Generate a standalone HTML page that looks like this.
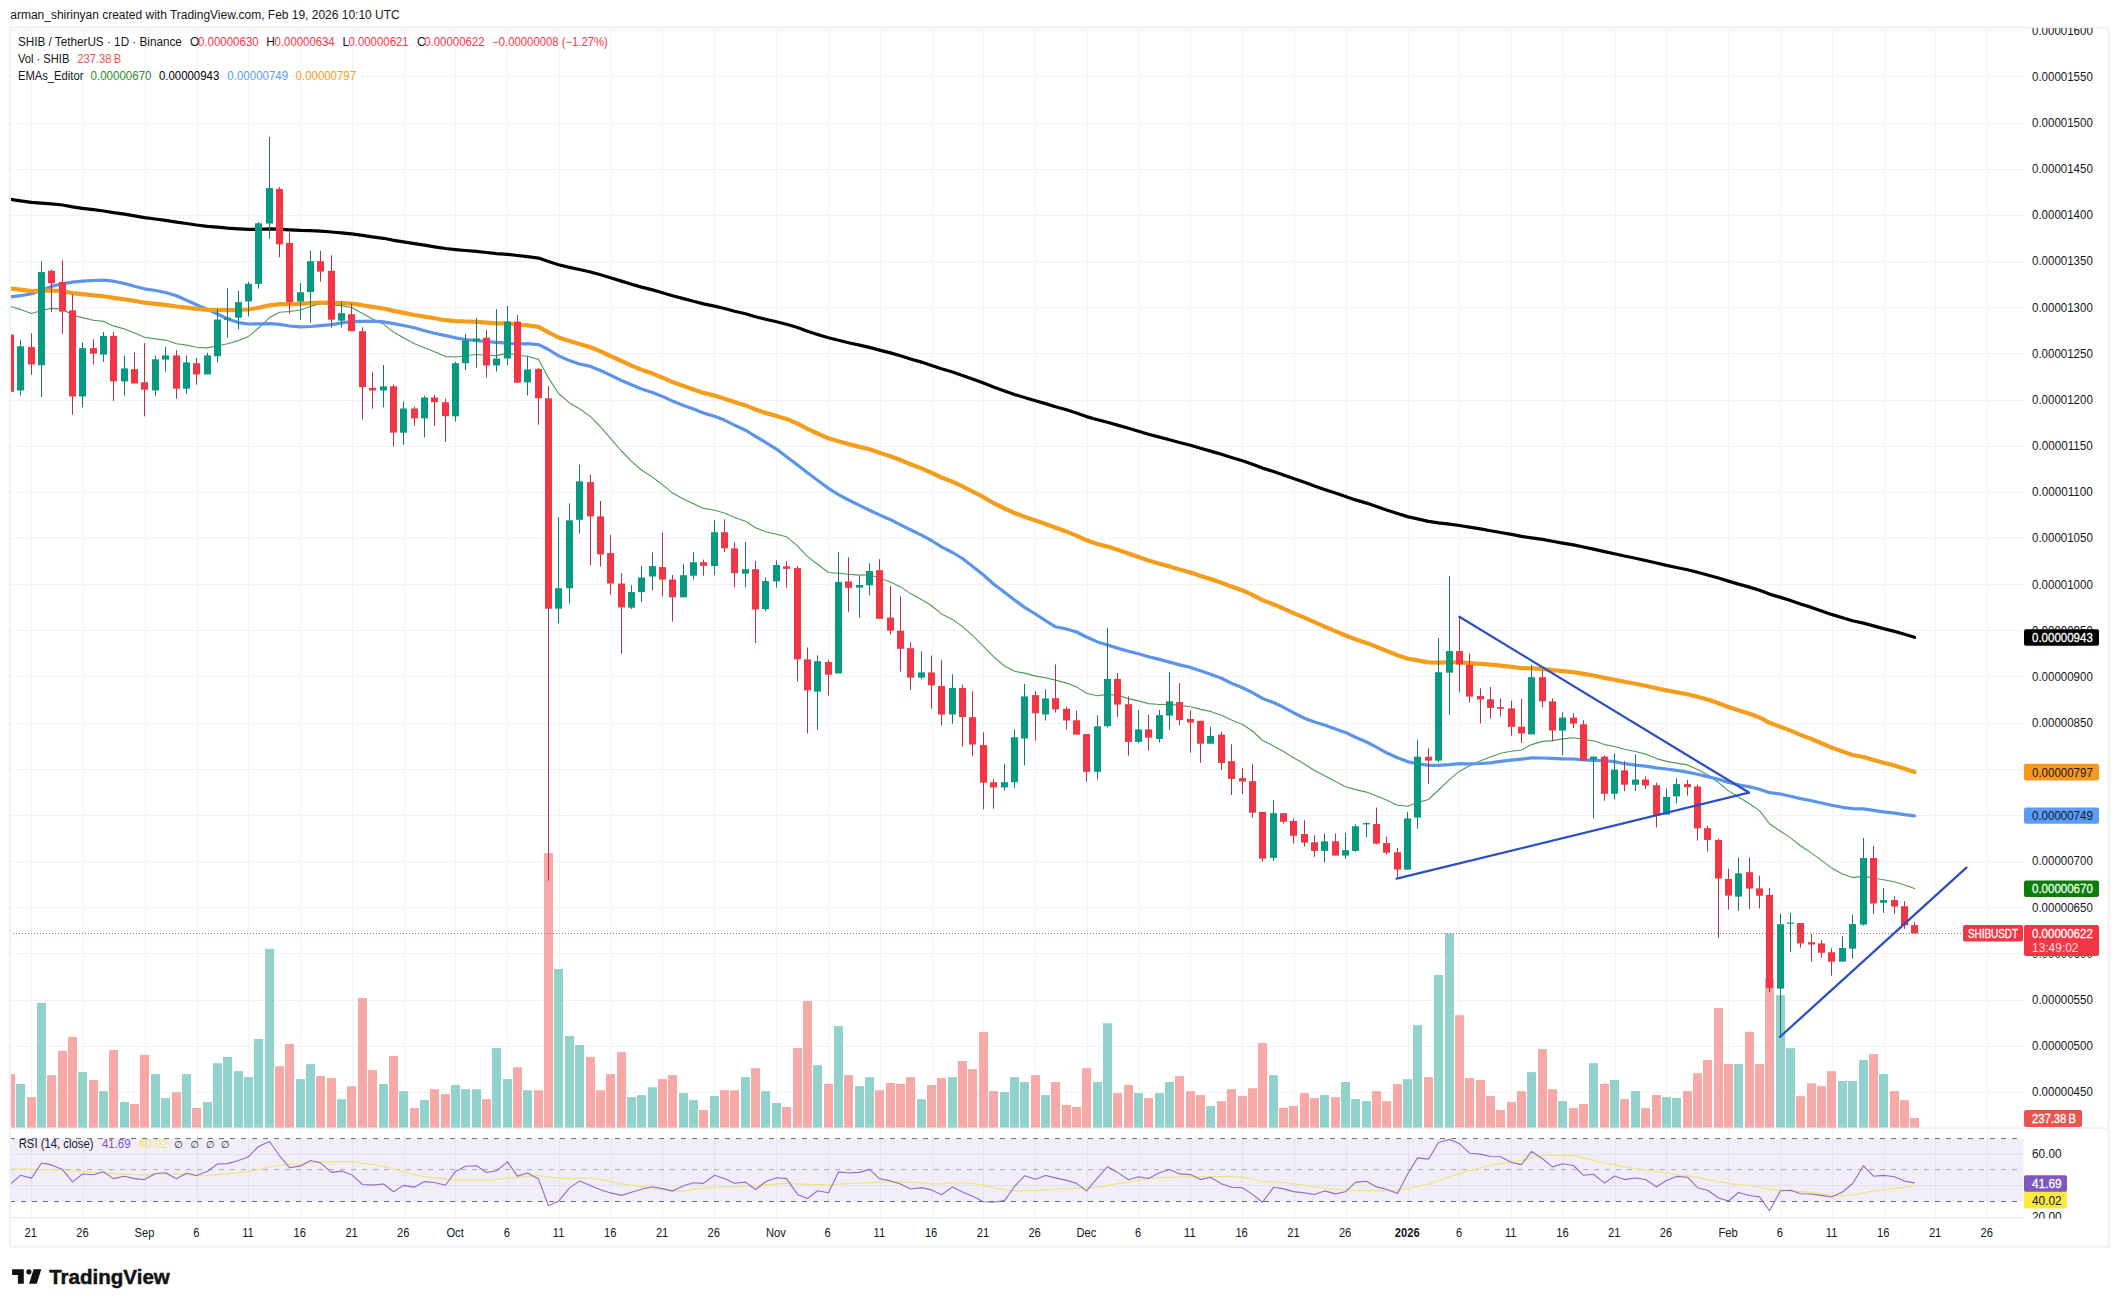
<!DOCTYPE html><html><head><meta charset="utf-8"><title>SHIB / TetherUS chart</title>
<style>html,body{margin:0;padding:0;background:#fff}svg{display:block}text{font-family:"Liberation Sans", Arial, sans-serif;font-size:12px;fill:#131722}</style></head><body>
<svg width="2119" height="1307" viewBox="0 0 2119 1307">
<rect width="2119" height="1307" fill="#fff"/>
<defs><clipPath id="pane"><rect x="10.5" y="27.5" width="2013.5" height="1100.5"/></clipPath><clipPath id="rsi"><rect x="10.5" y="1128.5" width="2013.5" height="89"/></clipPath><clipPath id="axis"><rect x="2024" y="28" width="84" height="1190"/></clipPath></defs>
<g stroke="#f3f3f6" stroke-width="1" shape-rendering="crispEdges">
<line x1="31.5" y1="27.5" x2="31.5" y2="1217.6"/>
<line x1="83.5" y1="27.5" x2="83.5" y2="1217.6"/>
<line x1="145.5" y1="27.5" x2="145.5" y2="1217.6"/>
<line x1="197.5" y1="27.5" x2="197.5" y2="1217.6"/>
<line x1="248.5" y1="27.5" x2="248.5" y2="1217.6"/>
<line x1="300.5" y1="27.5" x2="300.5" y2="1217.6"/>
<line x1="352.5" y1="27.5" x2="352.5" y2="1217.6"/>
<line x1="404.5" y1="27.5" x2="404.5" y2="1217.6"/>
<line x1="455.5" y1="27.5" x2="455.5" y2="1217.6"/>
<line x1="507.5" y1="27.5" x2="507.5" y2="1217.6"/>
<line x1="559.5" y1="27.5" x2="559.5" y2="1217.6"/>
<line x1="611.5" y1="27.5" x2="611.5" y2="1217.6"/>
<line x1="662.5" y1="27.5" x2="662.5" y2="1217.6"/>
<line x1="714.5" y1="27.5" x2="714.5" y2="1217.6"/>
<line x1="776.5" y1="27.5" x2="776.5" y2="1217.6"/>
<line x1="828.5" y1="27.5" x2="828.5" y2="1217.6"/>
<line x1="880.5" y1="27.5" x2="880.5" y2="1217.6"/>
<line x1="932.5" y1="27.5" x2="932.5" y2="1217.6"/>
<line x1="983.5" y1="27.5" x2="983.5" y2="1217.6"/>
<line x1="1035.5" y1="27.5" x2="1035.5" y2="1217.6"/>
<line x1="1087.5" y1="27.5" x2="1087.5" y2="1217.6"/>
<line x1="1139.5" y1="27.5" x2="1139.5" y2="1217.6"/>
<line x1="1190.5" y1="27.5" x2="1190.5" y2="1217.6"/>
<line x1="1242.5" y1="27.5" x2="1242.5" y2="1217.6"/>
<line x1="1294.5" y1="27.5" x2="1294.5" y2="1217.6"/>
<line x1="1346.5" y1="27.5" x2="1346.5" y2="1217.6"/>
<line x1="1408.5" y1="27.5" x2="1408.5" y2="1217.6"/>
<line x1="1459.5" y1="27.5" x2="1459.5" y2="1217.6"/>
<line x1="1511.5" y1="27.5" x2="1511.5" y2="1217.6"/>
<line x1="1563.5" y1="27.5" x2="1563.5" y2="1217.6"/>
<line x1="1615.5" y1="27.5" x2="1615.5" y2="1217.6"/>
<line x1="1666.5" y1="27.5" x2="1666.5" y2="1217.6"/>
<line x1="1728.5" y1="27.5" x2="1728.5" y2="1217.6"/>
<line x1="1780.5" y1="27.5" x2="1780.5" y2="1217.6"/>
<line x1="1832.5" y1="27.5" x2="1832.5" y2="1217.6"/>
<line x1="1884.5" y1="27.5" x2="1884.5" y2="1217.6"/>
<line x1="1935.5" y1="27.5" x2="1935.5" y2="1217.6"/>
<line x1="1987.5" y1="27.5" x2="1987.5" y2="1217.6"/>
<line x1="10" y1="30.5" x2="2024" y2="30.5"/>
<line x1="10" y1="76.5" x2="2024" y2="76.5"/>
<line x1="10" y1="123.5" x2="2024" y2="123.5"/>
<line x1="10" y1="169.5" x2="2024" y2="169.5"/>
<line x1="10" y1="215.5" x2="2024" y2="215.5"/>
<line x1="10" y1="261.5" x2="2024" y2="261.5"/>
<line x1="10" y1="307.5" x2="2024" y2="307.5"/>
<line x1="10" y1="353.5" x2="2024" y2="353.5"/>
<line x1="10" y1="400.5" x2="2024" y2="400.5"/>
<line x1="10" y1="446.5" x2="2024" y2="446.5"/>
<line x1="10" y1="492.5" x2="2024" y2="492.5"/>
<line x1="10" y1="538.5" x2="2024" y2="538.5"/>
<line x1="10" y1="584.5" x2="2024" y2="584.5"/>
<line x1="10" y1="630.5" x2="2024" y2="630.5"/>
<line x1="10" y1="676.5" x2="2024" y2="676.5"/>
<line x1="10" y1="723.5" x2="2024" y2="723.5"/>
<line x1="10" y1="769.5" x2="2024" y2="769.5"/>
<line x1="10" y1="815.5" x2="2024" y2="815.5"/>
<line x1="10" y1="861.5" x2="2024" y2="861.5"/>
<line x1="10" y1="907.5" x2="2024" y2="907.5"/>
<line x1="10" y1="953.5" x2="2024" y2="953.5"/>
<line x1="10" y1="1000.5" x2="2024" y2="1000.5"/>
<line x1="10" y1="1046.5" x2="2024" y2="1046.5"/>
<line x1="10" y1="1092.5" x2="2024" y2="1092.5"/>
</g>
<rect x="10.5" y="1138.6" width="2013" height="62.9" fill="#f1edf9"/>
<g stroke="#e4e1ee" stroke-width="1" shape-rendering="crispEdges">
<line x1="31.5" y1="1138.6" x2="31.5" y2="1201.5"/>
<line x1="83.5" y1="1138.6" x2="83.5" y2="1201.5"/>
<line x1="145.5" y1="1138.6" x2="145.5" y2="1201.5"/>
<line x1="197.5" y1="1138.6" x2="197.5" y2="1201.5"/>
<line x1="248.5" y1="1138.6" x2="248.5" y2="1201.5"/>
<line x1="300.5" y1="1138.6" x2="300.5" y2="1201.5"/>
<line x1="352.5" y1="1138.6" x2="352.5" y2="1201.5"/>
<line x1="404.5" y1="1138.6" x2="404.5" y2="1201.5"/>
<line x1="455.5" y1="1138.6" x2="455.5" y2="1201.5"/>
<line x1="507.5" y1="1138.6" x2="507.5" y2="1201.5"/>
<line x1="559.5" y1="1138.6" x2="559.5" y2="1201.5"/>
<line x1="611.5" y1="1138.6" x2="611.5" y2="1201.5"/>
<line x1="662.5" y1="1138.6" x2="662.5" y2="1201.5"/>
<line x1="714.5" y1="1138.6" x2="714.5" y2="1201.5"/>
<line x1="776.5" y1="1138.6" x2="776.5" y2="1201.5"/>
<line x1="828.5" y1="1138.6" x2="828.5" y2="1201.5"/>
<line x1="880.5" y1="1138.6" x2="880.5" y2="1201.5"/>
<line x1="932.5" y1="1138.6" x2="932.5" y2="1201.5"/>
<line x1="983.5" y1="1138.6" x2="983.5" y2="1201.5"/>
<line x1="1035.5" y1="1138.6" x2="1035.5" y2="1201.5"/>
<line x1="1087.5" y1="1138.6" x2="1087.5" y2="1201.5"/>
<line x1="1139.5" y1="1138.6" x2="1139.5" y2="1201.5"/>
<line x1="1190.5" y1="1138.6" x2="1190.5" y2="1201.5"/>
<line x1="1242.5" y1="1138.6" x2="1242.5" y2="1201.5"/>
<line x1="1294.5" y1="1138.6" x2="1294.5" y2="1201.5"/>
<line x1="1346.5" y1="1138.6" x2="1346.5" y2="1201.5"/>
<line x1="1408.5" y1="1138.6" x2="1408.5" y2="1201.5"/>
<line x1="1459.5" y1="1138.6" x2="1459.5" y2="1201.5"/>
<line x1="1511.5" y1="1138.6" x2="1511.5" y2="1201.5"/>
<line x1="1563.5" y1="1138.6" x2="1563.5" y2="1201.5"/>
<line x1="1615.5" y1="1138.6" x2="1615.5" y2="1201.5"/>
<line x1="1666.5" y1="1138.6" x2="1666.5" y2="1201.5"/>
<line x1="1728.5" y1="1138.6" x2="1728.5" y2="1201.5"/>
<line x1="1780.5" y1="1138.6" x2="1780.5" y2="1201.5"/>
<line x1="1832.5" y1="1138.6" x2="1832.5" y2="1201.5"/>
<line x1="1884.5" y1="1138.6" x2="1884.5" y2="1201.5"/>
<line x1="1935.5" y1="1138.6" x2="1935.5" y2="1201.5"/>
<line x1="1987.5" y1="1138.6" x2="1987.5" y2="1201.5"/>
<line x1="10" y1="1154.5" x2="2023" y2="1154.5"/>
<line x1="10" y1="1185.5" x2="2023" y2="1185.5"/>
</g>
<g stroke-width="1" stroke-dasharray="5 6" fill="none">
<line x1="10" y1="1138.6" x2="2022" y2="1138.6" stroke="#6a6d78"/>
<line x1="10" y1="1169.6" x2="2022" y2="1169.6" stroke="#a9abb3"/>
<line x1="10" y1="1201.5" x2="2022" y2="1201.5" stroke="#6a6d78"/>
</g>
<g clip-path="url(#pane)">
<rect x="6" y="1074.1" width="9" height="53.9" fill="#f7a9a7"/>
<rect x="16" y="1084" width="9" height="44" fill="#92d2cc"/>
<rect x="27" y="1097.1" width="9" height="30.9" fill="#f7a9a7"/>
<rect x="37" y="1002.9" width="9" height="125.1" fill="#92d2cc"/>
<rect x="47" y="1075.1" width="9" height="52.9" fill="#f7a9a7"/>
<rect x="58" y="1050.9" width="9" height="77.1" fill="#f7a9a7"/>
<rect x="68" y="1037" width="9" height="91" fill="#f7a9a7"/>
<rect x="78" y="1072.1" width="9" height="55.9" fill="#92d2cc"/>
<rect x="89" y="1080" width="9" height="48" fill="#f7a9a7"/>
<rect x="99" y="1091.1" width="9" height="36.9" fill="#92d2cc"/>
<rect x="109" y="1049.9" width="9" height="78.1" fill="#f7a9a7"/>
<rect x="120" y="1102.1" width="9" height="25.9" fill="#92d2cc"/>
<rect x="130" y="1104" width="9" height="24" fill="#f7a9a7"/>
<rect x="140" y="1054.9" width="9" height="73.1" fill="#f7a9a7"/>
<rect x="151" y="1074.1" width="9" height="53.9" fill="#92d2cc"/>
<rect x="161" y="1098.1" width="9" height="29.9" fill="#92d2cc"/>
<rect x="172" y="1092.1" width="9" height="35.9" fill="#f7a9a7"/>
<rect x="182" y="1074.1" width="9" height="53.9" fill="#92d2cc"/>
<rect x="192" y="1108" width="9" height="20" fill="#f7a9a7"/>
<rect x="203" y="1102.1" width="9" height="25.9" fill="#92d2cc"/>
<rect x="213" y="1063.2" width="9" height="64.8" fill="#92d2cc"/>
<rect x="223" y="1056.9" width="9" height="71.1" fill="#92d2cc"/>
<rect x="234" y="1071.1" width="9" height="56.9" fill="#92d2cc"/>
<rect x="244" y="1077.1" width="9" height="50.9" fill="#92d2cc"/>
<rect x="254" y="1039" width="9" height="89" fill="#92d2cc"/>
<rect x="265" y="948.8" width="9" height="179.2" fill="#92d2cc"/>
<rect x="275" y="1066.2" width="9" height="61.8" fill="#f7a9a7"/>
<rect x="285" y="1044" width="9" height="84" fill="#f7a9a7"/>
<rect x="296" y="1079.1" width="9" height="48.9" fill="#92d2cc"/>
<rect x="306" y="1064.2" width="9" height="63.8" fill="#92d2cc"/>
<rect x="316" y="1076.1" width="9" height="51.9" fill="#f7a9a7"/>
<rect x="327" y="1078.1" width="9" height="49.9" fill="#f7a9a7"/>
<rect x="337" y="1099.1" width="9" height="28.9" fill="#92d2cc"/>
<rect x="347" y="1086.2" width="9" height="41.8" fill="#f7a9a7"/>
<rect x="358" y="998" width="9" height="130" fill="#f7a9a7"/>
<rect x="368" y="1070.1" width="9" height="57.9" fill="#f7a9a7"/>
<rect x="379" y="1084" width="9" height="44" fill="#92d2cc"/>
<rect x="389" y="1056.1" width="9" height="71.9" fill="#f7a9a7"/>
<rect x="399" y="1091.1" width="9" height="36.9" fill="#92d2cc"/>
<rect x="410" y="1108" width="9" height="20" fill="#f7a9a7"/>
<rect x="420" y="1100.1" width="9" height="27.9" fill="#92d2cc"/>
<rect x="430" y="1089.2" width="9" height="38.8" fill="#f7a9a7"/>
<rect x="441" y="1094.1" width="9" height="33.9" fill="#f7a9a7"/>
<rect x="451" y="1085" width="9" height="43" fill="#92d2cc"/>
<rect x="461" y="1089.2" width="9" height="38.8" fill="#92d2cc"/>
<rect x="472" y="1089.2" width="9" height="38.8" fill="#92d2cc"/>
<rect x="482" y="1099.1" width="9" height="28.9" fill="#f7a9a7"/>
<rect x="492" y="1048.1" width="9" height="79.9" fill="#92d2cc"/>
<rect x="503" y="1079.1" width="9" height="48.9" fill="#92d2cc"/>
<rect x="513" y="1067.2" width="9" height="60.8" fill="#f7a9a7"/>
<rect x="523" y="1090.2" width="9" height="37.8" fill="#92d2cc"/>
<rect x="534" y="1090.2" width="9" height="37.8" fill="#f7a9a7"/>
<rect x="544" y="853.1" width="9" height="274.9" fill="#f7a9a7"/>
<rect x="554" y="969" width="9" height="159" fill="#92d2cc"/>
<rect x="565" y="1036" width="9" height="92" fill="#92d2cc"/>
<rect x="575" y="1045" width="9" height="83" fill="#92d2cc"/>
<rect x="586" y="1056.9" width="9" height="71.1" fill="#f7a9a7"/>
<rect x="596" y="1090.2" width="9" height="37.8" fill="#f7a9a7"/>
<rect x="606" y="1074.1" width="9" height="53.9" fill="#f7a9a7"/>
<rect x="617" y="1052.1" width="9" height="75.9" fill="#f7a9a7"/>
<rect x="627" y="1097.1" width="9" height="30.9" fill="#92d2cc"/>
<rect x="637" y="1095.1" width="9" height="32.9" fill="#92d2cc"/>
<rect x="648" y="1087.2" width="9" height="40.8" fill="#92d2cc"/>
<rect x="658" y="1079.1" width="9" height="48.9" fill="#f7a9a7"/>
<rect x="668" y="1075.1" width="9" height="52.9" fill="#f7a9a7"/>
<rect x="679" y="1093.1" width="9" height="34.9" fill="#92d2cc"/>
<rect x="689" y="1100.1" width="9" height="27.9" fill="#92d2cc"/>
<rect x="699" y="1110" width="9" height="18" fill="#f7a9a7"/>
<rect x="710" y="1096.1" width="9" height="31.9" fill="#92d2cc"/>
<rect x="720" y="1090.2" width="9" height="37.8" fill="#f7a9a7"/>
<rect x="730" y="1090.2" width="9" height="37.8" fill="#f7a9a7"/>
<rect x="741" y="1077.1" width="9" height="50.9" fill="#92d2cc"/>
<rect x="751" y="1068.2" width="9" height="59.8" fill="#f7a9a7"/>
<rect x="761" y="1091.1" width="9" height="36.9" fill="#92d2cc"/>
<rect x="772" y="1103" width="9" height="25" fill="#92d2cc"/>
<rect x="782" y="1107" width="9" height="21" fill="#f7a9a7"/>
<rect x="793" y="1048.1" width="9" height="79.9" fill="#f7a9a7"/>
<rect x="803" y="1001" width="9" height="127" fill="#f7a9a7"/>
<rect x="813" y="1065.2" width="9" height="62.8" fill="#92d2cc"/>
<rect x="824" y="1084" width="9" height="44" fill="#f7a9a7"/>
<rect x="834" y="1026.1" width="9" height="101.9" fill="#92d2cc"/>
<rect x="844" y="1075.1" width="9" height="52.9" fill="#f7a9a7"/>
<rect x="855" y="1086.2" width="9" height="41.8" fill="#92d2cc"/>
<rect x="865" y="1077.1" width="9" height="50.9" fill="#92d2cc"/>
<rect x="875" y="1090.2" width="9" height="37.8" fill="#f7a9a7"/>
<rect x="886" y="1083" width="9" height="45" fill="#f7a9a7"/>
<rect x="896" y="1084" width="9" height="44" fill="#f7a9a7"/>
<rect x="906" y="1077.1" width="9" height="50.9" fill="#f7a9a7"/>
<rect x="917" y="1099.1" width="9" height="28.9" fill="#92d2cc"/>
<rect x="927" y="1085" width="9" height="43" fill="#f7a9a7"/>
<rect x="937" y="1078.1" width="9" height="49.9" fill="#f7a9a7"/>
<rect x="948" y="1077.1" width="9" height="50.9" fill="#92d2cc"/>
<rect x="958" y="1061" width="9" height="67" fill="#f7a9a7"/>
<rect x="968" y="1069.1" width="9" height="58.9" fill="#f7a9a7"/>
<rect x="979" y="1032.1" width="9" height="95.9" fill="#f7a9a7"/>
<rect x="989" y="1091.1" width="9" height="36.9" fill="#f7a9a7"/>
<rect x="1000" y="1092.1" width="9" height="35.9" fill="#92d2cc"/>
<rect x="1010" y="1077.1" width="9" height="50.9" fill="#92d2cc"/>
<rect x="1020" y="1082" width="9" height="46" fill="#92d2cc"/>
<rect x="1031" y="1075.1" width="9" height="52.9" fill="#f7a9a7"/>
<rect x="1041" y="1095.1" width="9" height="32.9" fill="#92d2cc"/>
<rect x="1051" y="1082" width="9" height="46" fill="#f7a9a7"/>
<rect x="1062" y="1105" width="9" height="23" fill="#f7a9a7"/>
<rect x="1072" y="1107" width="9" height="21" fill="#f7a9a7"/>
<rect x="1082" y="1068.2" width="9" height="59.8" fill="#f7a9a7"/>
<rect x="1093" y="1082" width="9" height="46" fill="#92d2cc"/>
<rect x="1103" y="1023.2" width="9" height="104.8" fill="#92d2cc"/>
<rect x="1113" y="1093.1" width="9" height="34.9" fill="#f7a9a7"/>
<rect x="1124" y="1085" width="9" height="43" fill="#f7a9a7"/>
<rect x="1134" y="1093.1" width="9" height="34.9" fill="#92d2cc"/>
<rect x="1144" y="1098.1" width="9" height="29.9" fill="#f7a9a7"/>
<rect x="1155" y="1093.1" width="9" height="34.9" fill="#92d2cc"/>
<rect x="1165" y="1082" width="9" height="46" fill="#92d2cc"/>
<rect x="1175" y="1076.1" width="9" height="51.9" fill="#f7a9a7"/>
<rect x="1186" y="1091.1" width="9" height="36.9" fill="#f7a9a7"/>
<rect x="1196" y="1095.1" width="9" height="32.9" fill="#f7a9a7"/>
<rect x="1206" y="1106" width="9" height="22" fill="#92d2cc"/>
<rect x="1217" y="1101.1" width="9" height="26.9" fill="#f7a9a7"/>
<rect x="1227" y="1089.2" width="9" height="38.8" fill="#f7a9a7"/>
<rect x="1238" y="1096.1" width="9" height="31.9" fill="#f7a9a7"/>
<rect x="1248" y="1088.2" width="9" height="39.8" fill="#f7a9a7"/>
<rect x="1258" y="1043" width="9" height="85" fill="#f7a9a7"/>
<rect x="1269" y="1075.1" width="9" height="52.9" fill="#92d2cc"/>
<rect x="1279" y="1108" width="9" height="20" fill="#f7a9a7"/>
<rect x="1289" y="1106" width="9" height="22" fill="#f7a9a7"/>
<rect x="1300" y="1093.1" width="9" height="34.9" fill="#f7a9a7"/>
<rect x="1310" y="1098.1" width="9" height="29.9" fill="#f7a9a7"/>
<rect x="1320" y="1095.1" width="9" height="32.9" fill="#92d2cc"/>
<rect x="1331" y="1097.1" width="9" height="30.9" fill="#f7a9a7"/>
<rect x="1341" y="1082" width="9" height="46" fill="#92d2cc"/>
<rect x="1351" y="1099.1" width="9" height="28.9" fill="#92d2cc"/>
<rect x="1362" y="1101.1" width="9" height="26.9" fill="#92d2cc"/>
<rect x="1372" y="1091.1" width="9" height="36.9" fill="#f7a9a7"/>
<rect x="1382" y="1101.1" width="9" height="26.9" fill="#f7a9a7"/>
<rect x="1393" y="1084" width="9" height="44" fill="#f7a9a7"/>
<rect x="1403" y="1079.1" width="9" height="48.9" fill="#92d2cc"/>
<rect x="1413" y="1025.1" width="9" height="102.9" fill="#92d2cc"/>
<rect x="1424" y="1077.1" width="9" height="50.9" fill="#f7a9a7"/>
<rect x="1434" y="975" width="9" height="153" fill="#92d2cc"/>
<rect x="1445" y="933.4" width="9" height="194.6" fill="#92d2cc"/>
<rect x="1455" y="1015.2" width="9" height="112.8" fill="#f7a9a7"/>
<rect x="1465" y="1078.1" width="9" height="49.9" fill="#f7a9a7"/>
<rect x="1476" y="1080" width="9" height="48" fill="#f7a9a7"/>
<rect x="1486" y="1096.1" width="9" height="31.9" fill="#f7a9a7"/>
<rect x="1496" y="1110" width="9" height="18" fill="#f7a9a7"/>
<rect x="1507" y="1102.1" width="9" height="25.9" fill="#f7a9a7"/>
<rect x="1517" y="1091.1" width="9" height="36.9" fill="#f7a9a7"/>
<rect x="1527" y="1072.1" width="9" height="55.9" fill="#92d2cc"/>
<rect x="1538" y="1049.1" width="9" height="78.9" fill="#f7a9a7"/>
<rect x="1548" y="1089.2" width="9" height="38.8" fill="#f7a9a7"/>
<rect x="1558" y="1101.1" width="9" height="26.9" fill="#92d2cc"/>
<rect x="1569" y="1108" width="9" height="20" fill="#f7a9a7"/>
<rect x="1579" y="1104" width="9" height="24" fill="#f7a9a7"/>
<rect x="1589" y="1063.2" width="9" height="64.8" fill="#92d2cc"/>
<rect x="1600" y="1084" width="9" height="44" fill="#f7a9a7"/>
<rect x="1610" y="1080" width="9" height="48" fill="#92d2cc"/>
<rect x="1620" y="1099" width="9" height="29" fill="#f7a9a7"/>
<rect x="1631" y="1091.1" width="9" height="36.9" fill="#92d2cc"/>
<rect x="1641" y="1107.9" width="9" height="20.1" fill="#f7a9a7"/>
<rect x="1652" y="1095" width="9" height="33" fill="#f7a9a7"/>
<rect x="1662" y="1096.9" width="9" height="31.1" fill="#92d2cc"/>
<rect x="1672" y="1097.9" width="9" height="30.1" fill="#92d2cc"/>
<rect x="1683" y="1091.1" width="9" height="36.9" fill="#f7a9a7"/>
<rect x="1693" y="1073.3" width="9" height="54.7" fill="#f7a9a7"/>
<rect x="1703" y="1059.9" width="9" height="68.1" fill="#f7a9a7"/>
<rect x="1714" y="1008" width="9" height="120" fill="#f7a9a7"/>
<rect x="1724" y="1064.1" width="9" height="63.9" fill="#f7a9a7"/>
<rect x="1734" y="1064.1" width="9" height="63.9" fill="#92d2cc"/>
<rect x="1745" y="1031.8" width="9" height="96.2" fill="#f7a9a7"/>
<rect x="1755" y="1064.1" width="9" height="63.9" fill="#f7a9a7"/>
<rect x="1765" y="978.9" width="9" height="149.1" fill="#f7a9a7"/>
<rect x="1776" y="995.1" width="9" height="132.9" fill="#92d2cc"/>
<rect x="1786" y="1048.2" width="9" height="79.8" fill="#92d2cc"/>
<rect x="1796" y="1096.2" width="9" height="31.8" fill="#f7a9a7"/>
<rect x="1807" y="1083.3" width="9" height="44.7" fill="#f7a9a7"/>
<rect x="1817" y="1086.2" width="9" height="41.8" fill="#f7a9a7"/>
<rect x="1827" y="1071.2" width="9" height="56.8" fill="#f7a9a7"/>
<rect x="1838" y="1081" width="9" height="47" fill="#92d2cc"/>
<rect x="1848" y="1081" width="9" height="47" fill="#92d2cc"/>
<rect x="1859" y="1059.9" width="9" height="68.1" fill="#92d2cc"/>
<rect x="1869" y="1054.1" width="9" height="73.9" fill="#f7a9a7"/>
<rect x="1879" y="1074" width="9" height="54" fill="#92d2cc"/>
<rect x="1890" y="1091.1" width="9" height="36.9" fill="#f7a9a7"/>
<rect x="1900" y="1100.2" width="9" height="27.8" fill="#f7a9a7"/>
<rect x="1910" y="1118" width="9" height="10" fill="#f7a9a7"/>
<polyline fill="none" stroke="#4f9a55" stroke-width="1.1" stroke-linejoin="round" stroke-linecap="round"  points="10.5,306.5 20.5,309.4 31.5,313.5 41.5,310.5 51.5,308.4 62.5,308.7 72.5,315.2 82.5,317.6 93.5,320.3 103.5,321.4 113.5,325.9 124.5,329 134.5,333.1 144.5,337.3 155.5,338.9 165.5,340.1 176.5,343.7 186.5,345.1 196.5,347.3 207.5,347.9 217.5,345.8 227.5,343.7 238.5,340.6 248.5,336.4 258.5,328 269.5,317.6 279.5,312.2 289.5,311.5 300.5,310 310.5,306.4 320.5,303.8 331.5,305 341.5,305.6 351.5,307.5 362.5,313.4 372.5,319.1 383.5,324.1 393.5,332.1 403.5,337.8 414.5,343.8 424.5,347.7 434.5,351.8 445.5,356.6 455.5,357 465.5,355.8 476.5,354.5 486.5,355.3 496.5,355.6 507.5,353.1 517.5,355.3 527.5,356.3 538.5,359.4 548.5,377.9 558.5,393.5 569.5,402.9 579.5,408.7 590.5,416.6 600.5,426.8 610.5,438.4 621.5,451 631.5,461.4 641.5,470 652.5,477.1 662.5,484.7 672.5,493.1 683.5,499.1 693.5,503.8 703.5,508.4 714.5,510.2 724.5,513 734.5,517.4 745.5,521.3 755.5,527.8 765.5,531.8 776.5,534.2 786.5,536.8 797.5,545.9 807.5,556.6 817.5,564.3 828.5,572.5 838.5,573.2 848.5,574.3 859.5,575.1 869.5,574.8 879.5,578.1 890.5,581.9 900.5,586.9 910.5,593.6 921.5,599.5 931.5,605.8 941.5,613.9 952.5,619.4 962.5,626.6 972.5,635.3 983.5,646.3 993.5,656.7 1004.5,666 1014.5,671.3 1024.5,673.1 1035.5,676.1 1045.5,677.8 1055.5,680.1 1066.5,683.1 1076.5,686.9 1086.5,693.2 1097.5,695.7 1107.5,694.4 1117.5,695.2 1128.5,698.6 1138.5,700.9 1148.5,703.6 1159.5,704.5 1169.5,704.3 1179.5,705.4 1190.5,706.7 1200.5,709.4 1210.5,711.4 1221.5,715.2 1231.5,719.9 1242.5,724.5 1252.5,731 1262.5,740.5 1273.5,745.9 1283.5,751.5 1293.5,757.7 1304.5,764 1314.5,770.5 1324.5,775.7 1335.5,781.6 1345.5,786.7 1355.5,789.6 1366.5,792.1 1376.5,795.9 1386.5,800.1 1397.5,805.3 1407.5,806.2 1417.5,802.6 1428.5,799.5 1438.5,790 1449.5,779.7 1459.5,771.2 1469.5,765.7 1480.5,760.8 1490.5,756.9 1500.5,753.3 1511.5,751.3 1521.5,750 1531.5,744.6 1542.5,741.4 1552.5,740.6 1562.5,738.9 1573.5,737.8 1583.5,739.4 1593.5,740.7 1604.5,744.6 1614.5,746.5 1624.5,749.3 1635.5,751.5 1645.5,754.1 1656.5,758.6 1666.5,761.4 1676.5,763.1 1687.5,764.9 1697.5,769.6 1707.5,774.8 1718.5,782.5 1728.5,790.9 1738.5,797 1749.5,803.8 1759.5,810.6 1769.5,823.7 1780.5,831.2 1790.5,837.9 1800.5,845.7 1811.5,853.1 1821.5,860.4 1831.5,867.9 1842.5,873.9 1852.5,877.6 1863.5,876.1 1873.5,878.2 1883.5,879.8 1894.5,881.8 1904.5,885 1914.5,888.6"/>
<polyline fill="none" stroke="#5b94ea" stroke-width="3.2" stroke-linejoin="round" stroke-linecap="round"  points="10.5,296.8 20.5,295.7 31.5,293.7 41.5,290.2 51.5,286.4 62.5,283.8 72.5,282.1 82.5,281.2 93.5,280.5 103.5,280.2 113.5,281.2 124.5,283.5 134.5,286.3 144.5,288.8 155.5,290.5 165.5,292.5 176.5,295.8 186.5,300.2 196.5,304.8 207.5,309.4 217.5,314 227.5,318.9 238.5,322.6 248.5,324 258.5,323.8 269.5,323.6 279.5,324.4 289.5,326 300.5,326.8 310.5,326.5 320.5,325.7 331.5,324.7 341.5,323 351.5,321.6 362.5,321.3 372.5,321.2 383.5,321.9 393.5,323.6 403.5,325.5 414.5,327.8 424.5,330.7 434.5,333.3 445.5,335.6 455.5,337.8 465.5,339.5 476.5,340.6 486.5,341.6 496.5,342.4 507.5,343.2 517.5,344 527.5,343.6 538.5,344.6 548.5,349.5 558.5,355.8 569.5,360.6 579.5,364 590.5,366.4 600.5,370.5 610.5,375.1 621.5,380.5 631.5,384.7 641.5,388.9 652.5,392.6 662.5,396.4 672.5,401.1 683.5,405.5 693.5,409 703.5,413.1 714.5,416.2 724.5,420.1 734.5,425.1 745.5,430.2 755.5,436.3 765.5,442.3 776.5,449.1 786.5,456.7 797.5,465 807.5,472.8 817.5,480.2 828.5,488.4 838.5,494.7 848.5,500 859.5,505.4 869.5,510.2 879.5,514.9 890.5,519.7 900.5,524.9 910.5,529.8 921.5,535.1 931.5,540.5 941.5,546.8 952.5,552.5 962.5,558.5 972.5,566.2 983.5,575 993.5,584 1004.5,592.3 1014.5,599.9 1024.5,607.4 1035.5,614 1045.5,620.6 1055.5,626.8 1066.5,629 1076.5,632 1086.5,637 1097.5,641.9 1107.5,645.1 1117.5,648.1 1128.5,651.3 1138.5,653.8 1148.5,656.7 1159.5,659.4 1169.5,662.1 1179.5,664.9 1190.5,667.4 1200.5,670.8 1210.5,674.3 1221.5,678.2 1231.5,683.2 1242.5,687.8 1252.5,692.6 1262.5,698.4 1273.5,702.5 1283.5,707.3 1293.5,712.7 1304.5,718.2 1314.5,722 1324.5,725 1335.5,728.9 1345.5,732.4 1355.5,737.3 1366.5,742 1376.5,747.2 1386.5,752.8 1397.5,757.8 1407.5,761.6 1417.5,763.7 1428.5,765.4 1438.5,765.4 1449.5,764.7 1459.5,763.7 1469.5,763.9 1480.5,763.5 1490.5,762.8 1500.5,761.3 1511.5,760.1 1521.5,759.1 1531.5,757.9 1542.5,758 1552.5,758.4 1562.5,758.8 1573.5,759 1583.5,759.8 1593.5,760.3 1604.5,760.7 1614.5,761.6 1624.5,763.7 1635.5,765.2 1645.5,766.1 1656.5,767.8 1666.5,769 1676.5,770.4 1687.5,772.1 1697.5,774.2 1707.5,776.6 1718.5,779.3 1728.5,782.5 1738.5,784.7 1749.5,786.9 1759.5,789.2 1769.5,792.7 1780.5,794 1790.5,796.2 1800.5,798.6 1811.5,800.8 1821.5,803 1831.5,805.2 1842.5,807.3 1852.5,808.7 1863.5,808.8 1873.5,810.4 1883.5,811.9 1894.5,813.2 1904.5,814.7 1914.5,815.9"/>
<polyline fill="none" stroke="#f59d1b" stroke-width="4.2" stroke-linejoin="round" stroke-linecap="round"  points="10.5,288.5 20.5,289.6 31.5,291.1 41.5,290.7 51.5,290.6 62.5,291 72.5,293.1 82.5,294.2 93.5,295.4 103.5,296.2 113.5,297.9 124.5,299.3 134.5,300.9 144.5,302.7 155.5,303.8 165.5,304.8 176.5,306.5 186.5,307.6 196.5,308.9 207.5,309.8 217.5,310 227.5,310.2 238.5,310 248.5,309.5 258.5,307.8 269.5,305.4 279.5,304.2 289.5,304.2 300.5,303.9 310.5,303.1 320.5,302.5 331.5,302.8 341.5,303 351.5,303.6 362.5,305.2 372.5,306.9 383.5,308.5 393.5,310.9 403.5,312.9 414.5,315 424.5,316.6 434.5,318.3 445.5,320.2 455.5,321.1 465.5,321.5 476.5,321.8 486.5,322.7 496.5,323.4 507.5,323.3 517.5,324.5 527.5,325.4 538.5,326.8 548.5,332.4 558.5,337.5 569.5,341.1 579.5,343.9 590.5,347.3 600.5,351.4 610.5,356 621.5,361 631.5,365.6 641.5,369.8 652.5,373.6 662.5,377.7 672.5,382.1 683.5,385.9 693.5,389.4 703.5,392.9 714.5,395.6 724.5,398.7 734.5,402.1 745.5,405.4 755.5,409.5 765.5,412.9 776.5,415.9 786.5,418.9 797.5,423.7 807.5,428.9 817.5,433.5 828.5,438.3 838.5,441.2 848.5,444.1 859.5,446.9 869.5,449.3 879.5,452.7 890.5,456.2 900.5,460 910.5,464.3 921.5,468.4 931.5,472.7 941.5,477.5 952.5,481.7 962.5,486.4 972.5,491.5 983.5,497.2 993.5,503 1004.5,508.5 1014.5,513 1024.5,516.7 1035.5,520.6 1045.5,524.1 1055.5,527.8 1066.5,531.6 1076.5,535.6 1086.5,540.3 1097.5,544 1107.5,546.6 1117.5,549.8 1128.5,553.6 1138.5,557 1148.5,560.6 1159.5,563.7 1169.5,566.4 1179.5,569.5 1190.5,572.5 1200.5,575.9 1210.5,579 1221.5,582.7 1231.5,586.6 1242.5,590.4 1252.5,594.8 1262.5,600.1 1273.5,604.3 1283.5,608.6 1293.5,613.1 1304.5,617.6 1314.5,622.2 1324.5,626.6 1335.5,631.1 1345.5,635.5 1355.5,639.2 1366.5,642.9 1376.5,646.8 1386.5,650.9 1397.5,655.3 1407.5,658.5 1417.5,660.4 1428.5,662.4 1438.5,662.6 1449.5,662.4 1459.5,662.4 1469.5,663.1 1480.5,663.8 1490.5,664.7 1500.5,665.6 1511.5,666.8 1521.5,668.1 1531.5,668.3 1542.5,668.9 1552.5,670.2 1562.5,671.1 1573.5,672.1 1583.5,673.9 1593.5,675.5 1604.5,677.9 1614.5,679.7 1624.5,681.8 1635.5,683.7 1645.5,685.7 1656.5,688.3 1666.5,690.4 1676.5,692.3 1687.5,694.2 1697.5,696.8 1707.5,699.6 1718.5,703.2 1728.5,707 1738.5,710.3 1749.5,713.8 1759.5,717.4 1769.5,722.8 1780.5,726.8 1790.5,730.6 1800.5,734.9 1811.5,739 1821.5,743.2 1831.5,747.6 1842.5,751.5 1852.5,755 1863.5,757 1873.5,759.9 1883.5,762.7 1894.5,765.5 1904.5,768.7 1914.5,772"/>
<polyline fill="none" stroke="#000" stroke-width="3.2" stroke-linejoin="round" stroke-linecap="round"  points="10.5,199.3 20.5,200.8 31.5,202.4 41.5,203.1 51.5,203.9 62.5,205 72.5,206.9 82.5,208.3 93.5,209.7 103.5,211 113.5,212.7 124.5,214.2 134.5,215.9 144.5,217.6 155.5,219 165.5,220.4 176.5,222.1 186.5,223.5 196.5,225 207.5,226.3 217.5,227.2 227.5,228.1 238.5,228.8 248.5,229.4 258.5,229.3 269.5,228.9 279.5,229.1 289.5,229.8 300.5,230.4 310.5,230.7 320.5,231.1 331.5,232 341.5,232.8 351.5,233.8 362.5,235.3 372.5,236.9 383.5,238.3 393.5,240.3 403.5,241.9 414.5,243.7 424.5,245.2 434.5,246.8 445.5,248.5 455.5,249.6 465.5,250.5 476.5,251.4 486.5,252.5 496.5,253.6 507.5,254.3 517.5,255.5 527.5,256.7 538.5,258.1 548.5,261.6 558.5,264.8 569.5,267.4 579.5,269.5 590.5,272 600.5,274.8 610.5,277.8 621.5,281.1 631.5,284.2 641.5,287.1 652.5,289.9 662.5,292.8 672.5,295.8 683.5,298.6 693.5,301.2 703.5,303.9 714.5,306.1 724.5,308.5 734.5,311.2 745.5,313.7 755.5,316.7 765.5,319.3 776.5,321.8 786.5,324.2 797.5,327.5 807.5,331.2 817.5,334.4 828.5,337.8 838.5,340.3 848.5,342.7 859.5,345.1 869.5,347.4 879.5,350.1 890.5,352.9 900.5,355.8 910.5,359 921.5,362.1 931.5,365.4 941.5,368.8 952.5,372 962.5,375.4 972.5,379.1 983.5,383.1 993.5,387.1 1004.5,391.1 1014.5,394.5 1024.5,397.5 1035.5,400.7 1045.5,403.6 1055.5,406.7 1066.5,409.8 1076.5,413 1086.5,416.6 1097.5,419.7 1107.5,422.3 1117.5,425.1 1128.5,428.2 1138.5,431.2 1148.5,434.3 1159.5,437.1 1169.5,439.7 1179.5,442.5 1190.5,445.3 1200.5,448.2 1210.5,451.1 1221.5,454.2 1231.5,457.4 1242.5,460.7 1252.5,464.2 1262.5,468.1 1273.5,471.5 1283.5,475 1293.5,478.6 1304.5,482.2 1314.5,485.9 1324.5,489.4 1335.5,493.1 1345.5,496.6 1355.5,499.9 1366.5,503.1 1376.5,506.5 1386.5,509.9 1397.5,513.5 1407.5,516.6 1417.5,518.9 1428.5,521.4 1438.5,522.9 1449.5,524.1 1459.5,525.5 1469.5,527.2 1480.5,528.9 1490.5,530.7 1500.5,532.5 1511.5,534.4 1521.5,536.4 1531.5,537.8 1542.5,539.4 1552.5,541.3 1562.5,543.1 1573.5,544.9 1583.5,547 1593.5,549.1 1604.5,551.6 1614.5,553.7 1624.5,556 1635.5,558.2 1645.5,560.5 1656.5,563 1666.5,565.4 1676.5,567.5 1687.5,569.7 1697.5,572.3 1707.5,575 1718.5,578 1728.5,581.1 1738.5,584.1 1749.5,587.1 1759.5,590.2 1769.5,594.1 1780.5,597.4 1790.5,600.6 1800.5,604 1811.5,607.4 1821.5,610.9 1831.5,614.4 1842.5,617.7 1852.5,620.7 1863.5,623.1 1873.5,625.9 1883.5,628.6 1894.5,631.4 1904.5,634.3 1914.5,637.3"/>
<rect x="10" y="324.2" width="1" height="68.9" fill="#b33342"/><rect x="20" y="339.8" width="1" height="55.9" fill="#147a68"/><rect x="31" y="333.3" width="1" height="41.6" fill="#b33342"/><rect x="41" y="261.2" width="1" height="135.8" fill="#147a68"/><rect x="51" y="269.5" width="1" height="42.4" fill="#b33342"/><rect x="62" y="260.4" width="1" height="73.3" fill="#b33342"/><rect x="72" y="294.3" width="1" height="120.4" fill="#b33342"/><rect x="82" y="342.4" width="1" height="65" fill="#147a68"/><rect x="93" y="339.2" width="1" height="25.2" fill="#b33342"/><rect x="103" y="332" width="1" height="29.9" fill="#147a68"/><rect x="113" y="332" width="1" height="68.9" fill="#b33342"/><rect x="124" y="355.4" width="1" height="40.3" fill="#147a68"/><rect x="134" y="352.2" width="1" height="31.2" fill="#b33342"/><rect x="144" y="343.1" width="1" height="73.3" fill="#b33342"/><rect x="155" y="355.4" width="1" height="40.8" fill="#147a68"/><rect x="165" y="347" width="1" height="24.7" fill="#147a68"/><rect x="176" y="350.2" width="1" height="48.6" fill="#b33342"/><rect x="186" y="355.4" width="1" height="38.2" fill="#147a68"/><rect x="196" y="358" width="1" height="26.8" fill="#b33342"/><rect x="207" y="352.8" width="1" height="21.6" fill="#147a68"/><rect x="217" y="309.1" width="1" height="53.3" fill="#147a68"/><rect x="227" y="288.3" width="1" height="49.4" fill="#147a68"/><rect x="238" y="290.9" width="1" height="38.5" fill="#147a68"/><rect x="248" y="281.8" width="1" height="34.6" fill="#147a68"/><rect x="258" y="222" width="1" height="66.6" fill="#147a68"/><rect x="269" y="136.9" width="1" height="102" fill="#147a68"/><rect x="279" y="187.1" width="1" height="70.2" fill="#b33342"/><rect x="289" y="232.4" width="1" height="81.4" fill="#b33342"/><rect x="300" y="283.1" width="1" height="36.7" fill="#147a68"/><rect x="310" y="250.8" width="1" height="72" fill="#147a68"/><rect x="320" y="250.8" width="1" height="30.9" fill="#b33342"/><rect x="331" y="255.2" width="1" height="72.3" fill="#b33342"/><rect x="341" y="301.3" width="1" height="26.3" fill="#147a68"/><rect x="351" y="303.4" width="1" height="27.8" fill="#b33342"/><rect x="362" y="327.3" width="1" height="92.3" fill="#b33342"/><rect x="372" y="371.8" width="1" height="36.9" fill="#b33342"/><rect x="383" y="365" width="1" height="42.4" fill="#147a68"/><rect x="393" y="384.5" width="1" height="61.9" fill="#b33342"/><rect x="403" y="401.4" width="1" height="43.4" fill="#147a68"/><rect x="414" y="406.6" width="1" height="19" fill="#b33342"/><rect x="424" y="395.7" width="1" height="41.6" fill="#147a68"/><rect x="434" y="394.9" width="1" height="30.7" fill="#b33342"/><rect x="445" y="398.8" width="1" height="42.9" fill="#b33342"/><rect x="455" y="361.9" width="1" height="59.6" fill="#147a68"/><rect x="465" y="333.8" width="1" height="36.4" fill="#147a68"/><rect x="476" y="318.2" width="1" height="49.4" fill="#147a68"/><rect x="486" y="329.9" width="1" height="47.6" fill="#b33342"/><rect x="496" y="309.1" width="1" height="62.4" fill="#147a68"/><rect x="507" y="306" width="1" height="59" fill="#147a68"/><rect x="517" y="315.1" width="1" height="68.1" fill="#b33342"/><rect x="527" y="355.9" width="1" height="39.5" fill="#147a68"/><rect x="538" y="368.1" width="1" height="56.7" fill="#b33342"/><rect x="548" y="385.8" width="1" height="494.8" fill="#b33342"/><rect x="558" y="517.2" width="1" height="106.1" fill="#147a68"/><rect x="569" y="503.4" width="1" height="100.1" fill="#147a68"/><rect x="579" y="464.6" width="1" height="68.9" fill="#147a68"/><rect x="590" y="474.8" width="1" height="90.5" fill="#b33342"/><rect x="600" y="501" width="1" height="65.5" fill="#b33342"/><rect x="610" y="534.9" width="1" height="59.8" fill="#b33342"/><rect x="621" y="573.1" width="1" height="80.6" fill="#b33342"/><rect x="631" y="585.3" width="1" height="23.7" fill="#147a68"/><rect x="641" y="565.8" width="1" height="36.4" fill="#147a68"/><rect x="652" y="552.3" width="1" height="38.2" fill="#147a68"/><rect x="662" y="532.8" width="1" height="63.7" fill="#b33342"/><rect x="672" y="574.9" width="1" height="46.8" fill="#b33342"/><rect x="683" y="564" width="1" height="33.3" fill="#147a68"/><rect x="693" y="552.3" width="1" height="27.3" fill="#147a68"/><rect x="703" y="559.6" width="1" height="16.1" fill="#b33342"/><rect x="714" y="520.3" width="1" height="54.9" fill="#147a68"/><rect x="724" y="519.2" width="1" height="33" fill="#b33342"/><rect x="734" y="542.4" width="1" height="45" fill="#b33342"/><rect x="745" y="541.9" width="1" height="45.5" fill="#147a68"/><rect x="755" y="560.9" width="1" height="82.2" fill="#b33342"/><rect x="765" y="577.2" width="1" height="34.1" fill="#147a68"/><rect x="776" y="560.3" width="1" height="27.3" fill="#147a68"/><rect x="786" y="561.1" width="1" height="26.5" fill="#b33342"/><rect x="797" y="566.3" width="1" height="115.2" fill="#b33342"/><rect x="807" y="647.5" width="1" height="86.1" fill="#b33342"/><rect x="817" y="655.3" width="1" height="74.4" fill="#147a68"/><rect x="828" y="659.9" width="1" height="35.6" fill="#b33342"/><rect x="838" y="552" width="1" height="121.5" fill="#147a68"/><rect x="848" y="557.2" width="1" height="54.6" fill="#b33342"/><rect x="859" y="576.2" width="1" height="41.4" fill="#147a68"/><rect x="869" y="563.2" width="1" height="32.2" fill="#147a68"/><rect x="879" y="559.3" width="1" height="59.6" fill="#b33342"/><rect x="890" y="585.8" width="1" height="48.6" fill="#b33342"/><rect x="900" y="596.2" width="1" height="75.4" fill="#b33342"/><rect x="910" y="642.3" width="1" height="47.6" fill="#b33342"/><rect x="921" y="651.4" width="1" height="28.1" fill="#147a68"/><rect x="931" y="655.5" width="1" height="53.1" fill="#b33342"/><rect x="941" y="659.9" width="1" height="65.8" fill="#b33342"/><rect x="952" y="674.3" width="1" height="49.4" fill="#147a68"/><rect x="962" y="684.7" width="1" height="61.9" fill="#b33342"/><rect x="972" y="691.2" width="1" height="65" fill="#b33342"/><rect x="983" y="732.2" width="1" height="77.2" fill="#b33342"/><rect x="993" y="779.1" width="1" height="29.6" fill="#b33342"/><rect x="1004" y="764" width="1" height="26.8" fill="#147a68"/><rect x="1014" y="729.4" width="1" height="58.5" fill="#147a68"/><rect x="1024" y="684.1" width="1" height="81.1" fill="#147a68"/><rect x="1035" y="691.2" width="1" height="49.4" fill="#b33342"/><rect x="1045" y="689.3" width="1" height="31.2" fill="#147a68"/><rect x="1055" y="664.4" width="1" height="48.1" fill="#b33342"/><rect x="1066" y="706.8" width="1" height="22.6" fill="#b33342"/><rect x="1076" y="710.7" width="1" height="23.9" fill="#b33342"/><rect x="1086" y="734.1" width="1" height="47.6" fill="#b33342"/><rect x="1097" y="715.3" width="1" height="64.2" fill="#147a68"/><rect x="1107" y="628" width="1" height="99.6" fill="#147a68"/><rect x="1117" y="673" width="1" height="44.2" fill="#b33342"/><rect x="1128" y="696.4" width="1" height="59.3" fill="#b33342"/><rect x="1138" y="710.1" width="1" height="33" fill="#147a68"/><rect x="1148" y="714.9" width="1" height="35.9" fill="#b33342"/><rect x="1159" y="709.9" width="1" height="32.5" fill="#147a68"/><rect x="1169" y="672.2" width="1" height="57.7" fill="#147a68"/><rect x="1179" y="683.1" width="1" height="42.1" fill="#b33342"/><rect x="1190" y="710.4" width="1" height="42.4" fill="#b33342"/><rect x="1200" y="720.8" width="1" height="42.1" fill="#b33342"/><rect x="1210" y="726.8" width="1" height="16.9" fill="#147a68"/><rect x="1221" y="731.8" width="1" height="38" fill="#b33342"/><rect x="1231" y="744.3" width="1" height="50.7" fill="#b33342"/><rect x="1242" y="768.2" width="1" height="26" fill="#b33342"/><rect x="1252" y="763.8" width="1" height="53.8" fill="#b33342"/><rect x="1262" y="811.9" width="1" height="49.4" fill="#b33342"/><rect x="1273" y="800.2" width="1" height="60.6" fill="#147a68"/><rect x="1283" y="813.2" width="1" height="10.4" fill="#b33342"/><rect x="1293" y="818.4" width="1" height="25.2" fill="#b33342"/><rect x="1304" y="820.2" width="1" height="26.3" fill="#b33342"/><rect x="1314" y="835.3" width="1" height="21.6" fill="#b33342"/><rect x="1324" y="833.5" width="1" height="29.1" fill="#147a68"/><rect x="1335" y="833.5" width="1" height="22.1" fill="#b33342"/><rect x="1345" y="832.7" width="1" height="26" fill="#147a68"/><rect x="1355" y="824.1" width="1" height="27.6" fill="#147a68"/><rect x="1366" y="822.3" width="1" height="14.8" fill="#147a68"/><rect x="1376" y="807.5" width="1" height="36.9" fill="#b33342"/><rect x="1386" y="836.6" width="1" height="17.7" fill="#b33342"/><rect x="1397" y="847.8" width="1" height="29.9" fill="#b33342"/><rect x="1407" y="811.9" width="1" height="57.7" fill="#147a68"/><rect x="1417" y="739.8" width="1" height="88.9" fill="#147a68"/><rect x="1428" y="748.2" width="1" height="35.6" fill="#b33342"/><rect x="1438" y="638.1" width="1" height="124.3" fill="#147a68"/><rect x="1449" y="576" width="1" height="138.9" fill="#147a68"/><rect x="1459" y="616.8" width="1" height="75.4" fill="#b33342"/><rect x="1469" y="653.2" width="1" height="49.4" fill="#b33342"/><rect x="1480" y="688.3" width="1" height="35.1" fill="#b33342"/><rect x="1490" y="687" width="1" height="31.7" fill="#b33342"/><rect x="1500" y="698.7" width="1" height="17.7" fill="#b33342"/><rect x="1511" y="700.8" width="1" height="34.9" fill="#b33342"/><rect x="1521" y="698.8" width="1" height="44.2" fill="#b33342"/><rect x="1531" y="665" width="1" height="69.4" fill="#147a68"/><rect x="1542" y="670.2" width="1" height="37.2" fill="#b33342"/><rect x="1552" y="698.3" width="1" height="42.9" fill="#b33342"/><rect x="1562" y="712.4" width="1" height="42.9" fill="#147a68"/><rect x="1573" y="713.1" width="1" height="15.1" fill="#b33342"/><rect x="1583" y="720.2" width="1" height="40.3" fill="#b33342"/><rect x="1593" y="756.6" width="1" height="61.9" fill="#147a68"/><rect x="1604" y="755.5" width="1" height="45.3" fill="#b33342"/><rect x="1614" y="753.4" width="1" height="46" fill="#147a68"/><rect x="1624" y="761.2" width="1" height="29.9" fill="#b33342"/><rect x="1635" y="754.7" width="1" height="36.4" fill="#147a68"/><rect x="1645" y="776.3" width="1" height="12.7" fill="#b33342"/><rect x="1656" y="782.8" width="1" height="44.7" fill="#b33342"/><rect x="1666" y="788.6" width="1" height="26" fill="#147a68"/><rect x="1676" y="778.2" width="1" height="25.2" fill="#147a68"/><rect x="1687" y="780" width="1" height="15.6" fill="#b33342"/><rect x="1697" y="784.7" width="1" height="55.9" fill="#b33342"/><rect x="1707" y="825.9" width="1" height="25.7" fill="#b33342"/><rect x="1718" y="838.7" width="1" height="99" fill="#b33342"/><rect x="1728" y="868.7" width="1" height="41" fill="#b33342"/><rect x="1738" y="857.5" width="1" height="53.4" fill="#147a68"/><rect x="1749" y="857.5" width="1" height="51.5" fill="#b33342"/><rect x="1759" y="875.7" width="1" height="32.8" fill="#b33342"/><rect x="1769" y="887.9" width="1" height="104.2" fill="#b33342"/><rect x="1780" y="913.6" width="1" height="122.9" fill="#147a68"/><rect x="1790" y="912.9" width="1" height="38.9" fill="#147a68"/><rect x="1800" y="923" width="1" height="24.6" fill="#b33342"/><rect x="1811" y="934" width="1" height="27.6" fill="#b33342"/><rect x="1821" y="940.1" width="1" height="17.6" fill="#b33342"/><rect x="1831" y="948.3" width="1" height="27.4" fill="#b33342"/><rect x="1842" y="936.3" width="1" height="25.3" fill="#147a68"/><rect x="1852" y="914.8" width="1" height="43.8" fill="#147a68"/><rect x="1863" y="838" width="1" height="87.7" fill="#147a68"/><rect x="1873" y="845.7" width="1" height="68.1" fill="#b33342"/><rect x="1883" y="888" width="1" height="24.9" fill="#147a68"/><rect x="1894" y="896.1" width="1" height="17.8" fill="#b33342"/><rect x="1904" y="901.1" width="1" height="27.7" fill="#b33342"/><rect x="1914" y="921.9" width="1" height="11.5" fill="#b33342"/>
<rect x="7" y="334.6" width="7" height="57.2" fill="#f23645"/><rect x="17" y="346.3" width="7" height="44.2" fill="#089981"/><rect x="28" y="347" width="7" height="17.4" fill="#f23645"/><rect x="38" y="272.1" width="7" height="93.1" fill="#089981"/><rect x="48" y="270.8" width="7" height="12.5" fill="#f23645"/><rect x="59" y="282" width="7" height="29.6" fill="#f23645"/><rect x="69" y="310.4" width="7" height="86.1" fill="#f23645"/><rect x="79" y="348.1" width="7" height="48.4" fill="#089981"/><rect x="90" y="348.1" width="7" height="5.5" fill="#f23645"/><rect x="100" y="335.9" width="7" height="18.7" fill="#089981"/><rect x="110" y="335.9" width="7" height="45.5" fill="#f23645"/><rect x="121" y="368.4" width="7" height="13" fill="#089981"/><rect x="131" y="369.2" width="7" height="14.3" fill="#f23645"/><rect x="141" y="382.2" width="7" height="7.5" fill="#f23645"/><rect x="152" y="359.3" width="7" height="31.2" fill="#089981"/><rect x="162" y="355.4" width="7" height="4.2" fill="#089981"/><rect x="173" y="355.4" width="7" height="33.3" fill="#f23645"/><rect x="183" y="362.4" width="7" height="26.3" fill="#089981"/><rect x="193" y="363.2" width="7" height="11.2" fill="#f23645"/><rect x="204" y="355.4" width="7" height="19" fill="#089981"/><rect x="214" y="319.5" width="7" height="36.7" fill="#089981"/><rect x="224" y="317.7" width="7" height="2.1" fill="#089981"/><rect x="235" y="302.1" width="7" height="15.6" fill="#089981"/><rect x="245" y="283.8" width="7" height="17.7" fill="#089981"/><rect x="255" y="223.3" width="7" height="60.6" fill="#089981"/><rect x="266" y="188.1" width="7" height="35.4" fill="#089981"/><rect x="276" y="188.9" width="7" height="55.4" fill="#f23645"/><rect x="286" y="243" width="7" height="59" fill="#f23645"/><rect x="297" y="292.2" width="7" height="9.4" fill="#089981"/><rect x="307" y="261.2" width="7" height="30.9" fill="#089981"/><rect x="317" y="261.2" width="7" height="10.4" fill="#f23645"/><rect x="328" y="270.8" width="7" height="48.9" fill="#f23645"/><rect x="338" y="313.2" width="7" height="7.5" fill="#089981"/><rect x="348" y="314.3" width="7" height="16.9" fill="#f23645"/><rect x="359" y="331.2" width="7" height="55.9" fill="#f23645"/><rect x="369" y="387.9" width="7" height="2.6" fill="#f23645"/><rect x="380" y="386.3" width="7" height="4.2" fill="#089981"/><rect x="390" y="386.3" width="7" height="46.3" fill="#f23645"/><rect x="400" y="408.5" width="7" height="24.2" fill="#089981"/><rect x="411" y="408.5" width="7" height="9.9" fill="#f23645"/><rect x="421" y="397.5" width="7" height="20.8" fill="#089981"/><rect x="431" y="397.5" width="7" height="4.7" fill="#f23645"/><rect x="442" y="402.2" width="7" height="14" fill="#f23645"/><rect x="452" y="363.2" width="7" height="53.1" fill="#089981"/><rect x="462" y="340.3" width="7" height="22.9" fill="#089981"/><rect x="473" y="338.5" width="7" height="2.3" fill="#089981"/><rect x="483" y="337.7" width="7" height="27.8" fill="#f23645"/><rect x="493" y="358.5" width="7" height="7" fill="#089981"/><rect x="504" y="321.6" width="7" height="36.9" fill="#089981"/><rect x="514" y="321.6" width="7" height="61.1" fill="#f23645"/><rect x="524" y="369.4" width="7" height="13" fill="#089981"/><rect x="535" y="368.9" width="7" height="29.4" fill="#f23645"/><rect x="545" y="398.3" width="7" height="210.4" fill="#f23645"/><rect x="555" y="588.2" width="7" height="20.5" fill="#089981"/><rect x="566" y="520.3" width="7" height="67.9" fill="#089981"/><rect x="576" y="481.3" width="7" height="38.5" fill="#089981"/><rect x="587" y="482.1" width="7" height="34.3" fill="#f23645"/><rect x="597" y="516.4" width="7" height="38" fill="#f23645"/><rect x="607" y="553.1" width="7" height="30.4" fill="#f23645"/><rect x="618" y="583.5" width="7" height="23.9" fill="#f23645"/><rect x="628" y="592.1" width="7" height="15.6" fill="#089981"/><rect x="638" y="577.5" width="7" height="14.6" fill="#089981"/><rect x="649" y="566.1" width="7" height="10.4" fill="#089981"/><rect x="659" y="567.1" width="7" height="12.5" fill="#f23645"/><rect x="669" y="579.6" width="7" height="17.7" fill="#f23645"/><rect x="680" y="575.2" width="7" height="22.1" fill="#089981"/><rect x="690" y="562.2" width="7" height="13.5" fill="#089981"/><rect x="700" y="562.2" width="7" height="3.6" fill="#f23645"/><rect x="711" y="532.2" width="7" height="33.8" fill="#089981"/><rect x="721" y="532.2" width="7" height="16.1" fill="#f23645"/><rect x="731" y="548.4" width="7" height="24.7" fill="#f23645"/><rect x="742" y="569.2" width="7" height="4.4" fill="#089981"/><rect x="752" y="569.2" width="7" height="40.3" fill="#f23645"/><rect x="762" y="581.1" width="7" height="28.1" fill="#089981"/><rect x="773" y="565" width="7" height="16.4" fill="#089981"/><rect x="783" y="566.3" width="7" height="2.6" fill="#f23645"/><rect x="794" y="568.1" width="7" height="91.3" fill="#f23645"/><rect x="804" y="659.4" width="7" height="30.9" fill="#f23645"/><rect x="814" y="661.2" width="7" height="30.4" fill="#089981"/><rect x="825" y="662" width="7" height="12.7" fill="#f23645"/><rect x="835" y="581.9" width="7" height="91.5" fill="#089981"/><rect x="845" y="581.4" width="7" height="6.5" fill="#f23645"/><rect x="856" y="585" width="7" height="2.6" fill="#089981"/><rect x="866" y="571" width="7" height="14.3" fill="#089981"/><rect x="876" y="570.2" width="7" height="48.6" fill="#f23645"/><rect x="887" y="617.6" width="7" height="13" fill="#f23645"/><rect x="897" y="630.6" width="7" height="18.2" fill="#f23645"/><rect x="907" y="648.2" width="7" height="29.4" fill="#f23645"/><rect x="918" y="672.4" width="7" height="5.2" fill="#089981"/><rect x="928" y="672.4" width="7" height="13" fill="#f23645"/><rect x="938" y="686" width="7" height="28.6" fill="#f23645"/><rect x="949" y="688" width="7" height="26.5" fill="#089981"/><rect x="959" y="688" width="7" height="29.1" fill="#f23645"/><rect x="969" y="717.2" width="7" height="27.3" fill="#f23645"/><rect x="980" y="745" width="7" height="37.7" fill="#f23645"/><rect x="990" y="782.2" width="7" height="5.2" fill="#f23645"/><rect x="1001" y="782.2" width="7" height="5.2" fill="#089981"/><rect x="1011" y="737.2" width="7" height="45" fill="#089981"/><rect x="1021" y="696.4" width="7" height="42.1" fill="#089981"/><rect x="1032" y="695.1" width="7" height="18.2" fill="#f23645"/><rect x="1042" y="698.4" width="7" height="16.1" fill="#089981"/><rect x="1052" y="698.2" width="7" height="11.2" fill="#f23645"/><rect x="1063" y="708.8" width="7" height="11.7" fill="#f23645"/><rect x="1073" y="720.3" width="7" height="14.3" fill="#f23645"/><rect x="1083" y="734.1" width="7" height="37.7" fill="#f23645"/><rect x="1094" y="726.3" width="7" height="45.5" fill="#089981"/><rect x="1104" y="678.9" width="7" height="47.3" fill="#089981"/><rect x="1114" y="678.9" width="7" height="25.7" fill="#f23645"/><rect x="1125" y="704.2" width="7" height="37.7" fill="#f23645"/><rect x="1135" y="729.4" width="7" height="12.5" fill="#089981"/><rect x="1145" y="729.4" width="7" height="8.3" fill="#f23645"/><rect x="1156" y="715.1" width="7" height="23.9" fill="#089981"/><rect x="1166" y="701.3" width="7" height="14.3" fill="#089981"/><rect x="1176" y="702.1" width="7" height="17.9" fill="#f23645"/><rect x="1187" y="719" width="7" height="3.6" fill="#f23645"/><rect x="1197" y="720.8" width="7" height="22.9" fill="#f23645"/><rect x="1207" y="735.9" width="7" height="7.8" fill="#089981"/><rect x="1218" y="734.6" width="7" height="28.3" fill="#f23645"/><rect x="1228" y="761.2" width="7" height="17.7" fill="#f23645"/><rect x="1239" y="778.1" width="7" height="3.4" fill="#f23645"/><rect x="1249" y="781.2" width="7" height="31.5" fill="#f23645"/><rect x="1259" y="811.9" width="7" height="46.8" fill="#f23645"/><rect x="1270" y="813.2" width="7" height="44.7" fill="#089981"/><rect x="1280" y="813.2" width="7" height="8.6" fill="#f23645"/><rect x="1290" y="821" width="7" height="14.8" fill="#f23645"/><rect x="1301" y="834" width="7" height="8.6" fill="#f23645"/><rect x="1311" y="842.3" width="7" height="8.6" fill="#f23645"/><rect x="1321" y="841.3" width="7" height="9.6" fill="#089981"/><rect x="1332" y="841.3" width="7" height="14.3" fill="#f23645"/><rect x="1342" y="850.1" width="7" height="5.5" fill="#089981"/><rect x="1352" y="826.2" width="7" height="24.7" fill="#089981"/><rect x="1363" y="823.1" width="7" height="1.3" fill="#089981"/><rect x="1373" y="824.1" width="7" height="19.5" fill="#f23645"/><rect x="1383" y="843.1" width="7" height="9.6" fill="#f23645"/><rect x="1394" y="852.2" width="7" height="17.4" fill="#f23645"/><rect x="1404" y="818.4" width="7" height="51.2" fill="#089981"/><rect x="1414" y="756.7" width="7" height="60.9" fill="#089981"/><rect x="1425" y="756.7" width="7" height="3.9" fill="#f23645"/><rect x="1435" y="672.2" width="7" height="88.4" fill="#089981"/><rect x="1446" y="651.1" width="7" height="21.6" fill="#089981"/><rect x="1456" y="651.1" width="7" height="13.3" fill="#f23645"/><rect x="1466" y="664.9" width="7" height="31.7" fill="#f23645"/><rect x="1477" y="696.1" width="7" height="3.4" fill="#f23645"/><rect x="1487" y="699.3" width="7" height="8.6" fill="#f23645"/><rect x="1497" y="707.1" width="7" height="1.6" fill="#f23645"/><rect x="1508" y="708.4" width="7" height="18.5" fill="#f23645"/><rect x="1518" y="726.7" width="7" height="6.8" fill="#f23645"/><rect x="1528" y="677.2" width="7" height="57.2" fill="#089981"/><rect x="1539" y="677.2" width="7" height="24.2" fill="#f23645"/><rect x="1549" y="701.4" width="7" height="29.1" fill="#f23645"/><rect x="1559" y="717.6" width="7" height="13" fill="#089981"/><rect x="1570" y="717.6" width="7" height="6" fill="#f23645"/><rect x="1580" y="724.3" width="7" height="36.2" fill="#f23645"/><rect x="1590" y="756.6" width="7" height="2.9" fill="#089981"/><rect x="1601" y="756.6" width="7" height="37.2" fill="#f23645"/><rect x="1611" y="769.6" width="7" height="24.2" fill="#089981"/><rect x="1621" y="770.4" width="7" height="14.3" fill="#f23645"/><rect x="1632" y="779.5" width="7" height="5.2" fill="#089981"/><rect x="1642" y="779.5" width="7" height="6" fill="#f23645"/><rect x="1653" y="785.2" width="7" height="30.2" fill="#f23645"/><rect x="1663" y="796.9" width="7" height="17.7" fill="#089981"/><rect x="1673" y="784.1" width="7" height="12.2" fill="#089981"/><rect x="1684" y="784.1" width="7" height="3.1" fill="#f23645"/><rect x="1694" y="786.5" width="7" height="41.9" fill="#f23645"/><rect x="1704" y="828.2" width="7" height="11.7" fill="#f23645"/><rect x="1715" y="839.9" width="7" height="38.6" fill="#f23645"/><rect x="1725" y="879" width="7" height="16.6" fill="#f23645"/><rect x="1735" y="873.4" width="7" height="23.2" fill="#089981"/><rect x="1746" y="872.2" width="7" height="16.4" fill="#f23645"/><rect x="1756" y="888.4" width="7" height="7.3" fill="#f23645"/><rect x="1766" y="894.9" width="7" height="93.2" fill="#f23645"/><rect x="1777" y="924.2" width="7" height="64.4" fill="#089981"/><rect x="1787" y="922.5" width="7" height="1.2" fill="#089981"/><rect x="1797" y="923" width="7" height="20.4" fill="#f23645"/><rect x="1808" y="942.2" width="7" height="2.3" fill="#f23645"/><rect x="1818" y="943.4" width="7" height="9.4" fill="#f23645"/><rect x="1828" y="952.3" width="7" height="9.4" fill="#f23645"/><rect x="1839" y="948" width="7" height="13.6" fill="#089981"/><rect x="1849" y="924.1" width="7" height="24.6" fill="#089981"/><rect x="1860" y="858" width="7" height="66.6" fill="#089981"/><rect x="1870" y="858" width="7" height="45.5" fill="#f23645"/><rect x="1880" y="900.1" width="7" height="2.7" fill="#089981"/><rect x="1891" y="900.1" width="7" height="6.5" fill="#f23645"/><rect x="1901" y="906.2" width="7" height="19.1" fill="#f23645"/><rect x="1911" y="925.1" width="7" height="8.3" fill="#f23645"/>
<line x1="10" y1="933.5" x2="1963" y2="933.5" stroke="#b4636b" stroke-width="1" stroke-dasharray="1 2"/>
<g stroke="#2b50c4" stroke-width="2.3" stroke-linecap="round" fill="none">
<line x1="1459.4" y1="616.8" x2="1748.9" y2="792.6"/>
<line x1="1396.7" y1="878.7" x2="1748.9" y2="792.6"/>
<line x1="1779.9" y1="1037" x2="1966.4" y2="867.6"/>
</g>
</g>
<g clip-path="url(#rsi)">
<polyline fill="none" stroke="#f3e583" stroke-width="1.3" stroke-linejoin="round" stroke-linecap="round"  points="10.5,1168.9 20.5,1169.2 31.5,1169.4 41.5,1169.7 51.5,1169.9 62.5,1170.2 72.5,1170.9 82.5,1171.6 93.5,1172.2 103.5,1172.9 113.5,1173.6 124.5,1174.1 134.5,1174.7 144.5,1175 155.5,1174.3 165.5,1174.1 176.5,1174.1 186.5,1174.9 196.5,1175.6 207.5,1175.7 217.5,1174.5 227.5,1173.7 238.5,1172.7 248.5,1171.6 258.5,1169.3 269.5,1166.9 279.5,1165.2 289.5,1164.4 300.5,1163.8 310.5,1163 320.5,1161.8 331.5,1161.8 341.5,1161.5 351.5,1161.7 362.5,1163.2 372.5,1164.7 383.5,1166.4 393.5,1168.9 403.5,1171.7 414.5,1174.9 424.5,1176.8 434.5,1177.8 445.5,1179.2 455.5,1180 465.5,1180.2 476.5,1179.7 486.5,1179.8 496.5,1179.5 507.5,1177.9 517.5,1177.3 527.5,1176.5 538.5,1175.6 548.5,1177.1 558.5,1178.1 569.5,1178.5 579.5,1178.4 590.5,1178.4 600.5,1179.7 610.5,1181.7 621.5,1183.8 631.5,1185.2 641.5,1186.5 652.5,1188.3 662.5,1189.2 672.5,1190.5 683.5,1191 693.5,1189.3 703.5,1188 714.5,1187.1 724.5,1186.9 734.5,1186.8 745.5,1186.2 755.5,1186 765.5,1185 776.5,1184 786.5,1183.2 797.5,1183.8 807.5,1184.5 817.5,1184.5 828.5,1184.9 838.5,1184.2 848.5,1183.4 859.5,1183.2 869.5,1182.6 879.5,1182.3 890.5,1182.2 900.5,1181.8 910.5,1182.3 921.5,1183 931.5,1183.8 941.5,1183.8 952.5,1183 962.5,1183.1 972.5,1183.4 983.5,1185.5 993.5,1187.6 1004.5,1189.6 1014.5,1190.8 1024.5,1190.6 1035.5,1190.5 1045.5,1189.9 1055.5,1189.1 1066.5,1188.6 1076.5,1188.1 1086.5,1187.8 1097.5,1187.2 1107.5,1185.4 1117.5,1183.7 1128.5,1182.1 1138.5,1180.3 1148.5,1178.7 1159.5,1177.7 1169.5,1177.3 1179.5,1176.9 1190.5,1176.8 1200.5,1176.9 1210.5,1176.7 1221.5,1176.7 1231.5,1176.5 1242.5,1177.2 1252.5,1179.2 1262.5,1181.3 1273.5,1181.8 1283.5,1182.7 1293.5,1183.6 1304.5,1185.1 1314.5,1186.8 1324.5,1188.1 1335.5,1189.4 1345.5,1190.3 1355.5,1190.7 1366.5,1190.5 1376.5,1190.5 1386.5,1190.6 1397.5,1190.5 1407.5,1188.5 1417.5,1186.4 1428.5,1184.3 1438.5,1180.8 1449.5,1177 1459.5,1173.3 1469.5,1170.6 1480.5,1167.8 1490.5,1165.3 1500.5,1163.4 1511.5,1162.1 1521.5,1160.5 1531.5,1157.8 1542.5,1155.3 1552.5,1154.8 1562.5,1155.2 1573.5,1155.7 1583.5,1158 1593.5,1160.5 1604.5,1163.3 1614.5,1165 1624.5,1166.8 1635.5,1168.3 1645.5,1169.9 1656.5,1171.7 1666.5,1172.8 1676.5,1174.6 1687.5,1175.9 1697.5,1177.4 1707.5,1179.3 1718.5,1181.6 1728.5,1183.4 1738.5,1184.8 1749.5,1185.6 1759.5,1187.1 1769.5,1189.4 1780.5,1190.3 1790.5,1191 1800.5,1191.5 1811.5,1192.5 1821.5,1193.9 1831.5,1195.3 1842.5,1195.6 1852.5,1195.1 1863.5,1192.8 1873.5,1191.1 1883.5,1189.8 1894.5,1188.5 1904.5,1187.4 1914.5,1185.4"/>
<polyline fill="none" stroke="#7e57c2" stroke-width="1.1" stroke-linejoin="round" stroke-linecap="round" stroke-opacity="0.85" points="10.5,1183.9 20.5,1175.3 31.5,1178.1 41.5,1163 51.5,1164.9 62.5,1169.6 72.5,1181.9 82.5,1174 93.5,1174.7 103.5,1171.8 113.5,1178.6 124.5,1176.3 134.5,1178.6 144.5,1179.6 155.5,1173.5 165.5,1172.7 176.5,1178.8 186.5,1173.2 196.5,1175.5 207.5,1171.3 217.5,1164 227.5,1163.6 238.5,1160.5 248.5,1156.8 258.5,1146.5 269.5,1141.5 279.5,1155.8 289.5,1167.7 300.5,1165.9 310.5,1160.5 320.5,1162.8 331.5,1172.4 341.5,1171.1 351.5,1174.7 362.5,1184.5 372.5,1185.1 383.5,1184 393.5,1191.7 403.5,1185.4 414.5,1187.1 424.5,1181.6 434.5,1182.5 445.5,1185.3 455.5,1171.4 465.5,1166.2 476.5,1165.8 486.5,1172.5 496.5,1170.7 507.5,1161.9 517.5,1176.1 527.5,1173 538.5,1179 548.5,1205.8 558.5,1201.3 569.5,1187.9 579.5,1181.1 590.5,1185.4 600.5,1189.7 610.5,1192.9 621.5,1195.4 631.5,1192.3 641.5,1189.2 652.5,1186.8 662.5,1188.6 672.5,1191.1 683.5,1185.8 693.5,1182.8 703.5,1183.4 714.5,1175.3 724.5,1178.5 734.5,1183.2 745.5,1182.1 755.5,1189.5 765.5,1181.8 776.5,1177.7 786.5,1178.6 797.5,1194.4 807.5,1198.5 817.5,1190.8 828.5,1192.8 838.5,1171.9 848.5,1173 859.5,1172.4 869.5,1169.4 879.5,1178.8 890.5,1180.9 900.5,1184.1 910.5,1189 921.5,1187.6 931.5,1189.9 941.5,1194.8 952.5,1186.9 962.5,1192 972.5,1196.3 983.5,1201.7 993.5,1202.3 1004.5,1200.6 1014.5,1186.5 1024.5,1175.8 1035.5,1179.3 1045.5,1175.5 1055.5,1177.9 1066.5,1180.4 1076.5,1183.4 1086.5,1190.9 1097.5,1177.8 1107.5,1166.7 1117.5,1172.4 1128.5,1179.8 1138.5,1176.8 1148.5,1178.5 1159.5,1172.8 1169.5,1169.4 1179.5,1173.9 1190.5,1174.6 1200.5,1179.6 1210.5,1177.3 1221.5,1183.7 1231.5,1187.2 1242.5,1187.8 1252.5,1194.4 1262.5,1202.3 1273.5,1187.3 1283.5,1188.9 1293.5,1191.6 1304.5,1192.9 1314.5,1194.5 1324.5,1190.9 1335.5,1193.9 1345.5,1191.7 1355.5,1182.4 1366.5,1181.3 1376.5,1186.9 1386.5,1189.2 1397.5,1193.4 1407.5,1174.2 1417.5,1157.9 1428.5,1159.1 1438.5,1142.5 1449.5,1139.5 1459.5,1143.7 1469.5,1153.2 1480.5,1154.1 1490.5,1156.5 1500.5,1156.8 1511.5,1162.5 1521.5,1164.6 1531.5,1151.4 1542.5,1158.8 1552.5,1166.9 1562.5,1163.8 1573.5,1165.5 1583.5,1175.3 1593.5,1174.2 1604.5,1183.1 1614.5,1176 1624.5,1179.6 1635.5,1178 1645.5,1179.5 1656.5,1186.8 1666.5,1180.5 1676.5,1176.4 1687.5,1177.2 1697.5,1187.7 1707.5,1190.3 1718.5,1198 1728.5,1201 1738.5,1192.5 1749.5,1195.5 1759.5,1196.9 1769.5,1210.8 1780.5,1190.8 1790.5,1190.3 1800.5,1193.8 1811.5,1194 1821.5,1195.4 1831.5,1197 1842.5,1192 1852.5,1183.8 1863.5,1165.8 1873.5,1176.2 1883.5,1175.4 1894.5,1176.8 1904.5,1181.1 1914.5,1182.9"/>
</g>
<g stroke="#ebecf0" stroke-width="1.3" fill="none">
<line x1="10" y1="1128.2" x2="2108.5" y2="1128.2"/>
<line x1="10" y1="1217.6" x2="2024" y2="1217.6"/>
</g>
<g stroke="#f0f1f4" stroke-width="1" shape-rendering="crispEdges">
<line x1="31.5" y1="1217.6" x2="31.5" y2="1221.6"/>
<line x1="83.5" y1="1217.6" x2="83.5" y2="1221.6"/>
<line x1="145.5" y1="1217.6" x2="145.5" y2="1221.6"/>
<line x1="197.5" y1="1217.6" x2="197.5" y2="1221.6"/>
<line x1="248.5" y1="1217.6" x2="248.5" y2="1221.6"/>
<line x1="300.5" y1="1217.6" x2="300.5" y2="1221.6"/>
<line x1="352.5" y1="1217.6" x2="352.5" y2="1221.6"/>
<line x1="404.5" y1="1217.6" x2="404.5" y2="1221.6"/>
<line x1="455.5" y1="1217.6" x2="455.5" y2="1221.6"/>
<line x1="507.5" y1="1217.6" x2="507.5" y2="1221.6"/>
<line x1="559.5" y1="1217.6" x2="559.5" y2="1221.6"/>
<line x1="611.5" y1="1217.6" x2="611.5" y2="1221.6"/>
<line x1="662.5" y1="1217.6" x2="662.5" y2="1221.6"/>
<line x1="714.5" y1="1217.6" x2="714.5" y2="1221.6"/>
<line x1="776.5" y1="1217.6" x2="776.5" y2="1221.6"/>
<line x1="828.5" y1="1217.6" x2="828.5" y2="1221.6"/>
<line x1="880.5" y1="1217.6" x2="880.5" y2="1221.6"/>
<line x1="932.5" y1="1217.6" x2="932.5" y2="1221.6"/>
<line x1="983.5" y1="1217.6" x2="983.5" y2="1221.6"/>
<line x1="1035.5" y1="1217.6" x2="1035.5" y2="1221.6"/>
<line x1="1087.5" y1="1217.6" x2="1087.5" y2="1221.6"/>
<line x1="1139.5" y1="1217.6" x2="1139.5" y2="1221.6"/>
<line x1="1190.5" y1="1217.6" x2="1190.5" y2="1221.6"/>
<line x1="1242.5" y1="1217.6" x2="1242.5" y2="1221.6"/>
<line x1="1294.5" y1="1217.6" x2="1294.5" y2="1221.6"/>
<line x1="1346.5" y1="1217.6" x2="1346.5" y2="1221.6"/>
<line x1="1408.5" y1="1217.6" x2="1408.5" y2="1221.6"/>
<line x1="1459.5" y1="1217.6" x2="1459.5" y2="1221.6"/>
<line x1="1511.5" y1="1217.6" x2="1511.5" y2="1221.6"/>
<line x1="1563.5" y1="1217.6" x2="1563.5" y2="1221.6"/>
<line x1="1615.5" y1="1217.6" x2="1615.5" y2="1221.6"/>
<line x1="1666.5" y1="1217.6" x2="1666.5" y2="1221.6"/>
<line x1="1728.5" y1="1217.6" x2="1728.5" y2="1221.6"/>
<line x1="1780.5" y1="1217.6" x2="1780.5" y2="1221.6"/>
<line x1="1832.5" y1="1217.6" x2="1832.5" y2="1221.6"/>
<line x1="1884.5" y1="1217.6" x2="1884.5" y2="1221.6"/>
<line x1="1935.5" y1="1217.6" x2="1935.5" y2="1221.6"/>
<line x1="1987.5" y1="1217.6" x2="1987.5" y2="1221.6"/>
</g>
<rect x="10" y="27.5" width="2098.5" height="1219.3" fill="none" stroke="#f0f1f3" stroke-width="2"/>
<g clip-path="url(#axis)">
<text x="2032" y="34.6" textLength="60.8" lengthAdjust="spacingAndGlyphs" >0.00001600</text>
<text x="2032" y="80.8" textLength="60.8" lengthAdjust="spacingAndGlyphs" >0.00001550</text>
<text x="2032" y="126.9" textLength="60.8" lengthAdjust="spacingAndGlyphs" >0.00001500</text>
<text x="2032" y="173.1" textLength="60.8" lengthAdjust="spacingAndGlyphs" >0.00001450</text>
<text x="2032" y="219.2" textLength="60.8" lengthAdjust="spacingAndGlyphs" >0.00001400</text>
<text x="2032" y="265.4" textLength="60.8" lengthAdjust="spacingAndGlyphs" >0.00001350</text>
<text x="2032" y="311.5" textLength="60.8" lengthAdjust="spacingAndGlyphs" >0.00001300</text>
<text x="2032" y="357.7" textLength="60.8" lengthAdjust="spacingAndGlyphs" >0.00001250</text>
<text x="2032" y="403.8" textLength="60.8" lengthAdjust="spacingAndGlyphs" >0.00001200</text>
<text x="2032" y="450" textLength="60.8" lengthAdjust="spacingAndGlyphs" >0.00001150</text>
<text x="2032" y="496.2" textLength="60.8" lengthAdjust="spacingAndGlyphs" >0.00001100</text>
<text x="2032" y="542.3" textLength="60.8" lengthAdjust="spacingAndGlyphs" >0.00001050</text>
<text x="2032" y="588.5" textLength="60.8" lengthAdjust="spacingAndGlyphs" >0.00001000</text>
<text x="2032" y="634.6" textLength="60.8" lengthAdjust="spacingAndGlyphs" >0.00000950</text>
<text x="2032" y="680.8" textLength="60.8" lengthAdjust="spacingAndGlyphs" >0.00000900</text>
<text x="2032" y="726.9" textLength="60.8" lengthAdjust="spacingAndGlyphs" >0.00000850</text>
<text x="2032" y="773.1" textLength="60.8" lengthAdjust="spacingAndGlyphs" >0.00000800</text>
<text x="2032" y="819.2" textLength="60.8" lengthAdjust="spacingAndGlyphs" >0.00000750</text>
<text x="2032" y="865.4" textLength="60.8" lengthAdjust="spacingAndGlyphs" >0.00000700</text>
<text x="2032" y="911.5" textLength="60.8" lengthAdjust="spacingAndGlyphs" >0.00000650</text>
<text x="2032" y="957.7" textLength="60.8" lengthAdjust="spacingAndGlyphs" >0.00000600</text>
<text x="2032" y="1003.9" textLength="60.8" lengthAdjust="spacingAndGlyphs" >0.00000550</text>
<text x="2032" y="1050" textLength="60.8" lengthAdjust="spacingAndGlyphs" >0.00000500</text>
<text x="2032" y="1096.2" textLength="60.8" lengthAdjust="spacingAndGlyphs" >0.00000450</text>
<text x="2032" y="1158.3" textLength="29.6" lengthAdjust="spacingAndGlyphs" >60.00</text>
</g>
<g clip-path="url(#rsi)"><text x="2032" y="1221.3" textLength="29.6" lengthAdjust="spacingAndGlyphs">20.00</text></g>
<clipPath id="rsiax"><rect x="2024" y="1128" width="84" height="90.6"/></clipPath>
<g clip-path="url(#rsiax)"><text x="2032" y="1221.3" textLength="29.6" lengthAdjust="spacingAndGlyphs">20.00</text></g>
<rect x="2024" y="629.2" width="75" height="16.6" rx="2" fill="#000"/>
<text x="2032" y="641.8" textLength="60.8" lengthAdjust="spacingAndGlyphs" style="fill:#fff;stroke:#fff;stroke-width:0.3px">0.00000943</text>
<rect x="2024" y="763.8" width="75" height="16.8" rx="2" fill="#f7981c"/>
<text x="2032" y="776.5" textLength="60.8" lengthAdjust="spacingAndGlyphs" style="fill:#131722">0.00000797</text>
<rect x="2024" y="807.4" width="75" height="16.4" rx="2" fill="#5b9cf6"/>
<text x="2032" y="819.9" textLength="60.8" lengthAdjust="spacingAndGlyphs" style="fill:#131722">0.00000749</text>
<rect x="2024" y="880.5" width="75" height="16.4" rx="2" fill="#0b7d0b"/>
<text x="2032" y="893" textLength="60.8" lengthAdjust="spacingAndGlyphs" style="fill:#eaffea;stroke:#eaffea;stroke-width:0.3px">0.00000670</text>
<rect x="1963" y="925" width="60" height="16.4" rx="2" fill="#f23645"/>
<text x="1968" y="937.7" textLength="50" lengthAdjust="spacingAndGlyphs" style="fill:#fff;stroke:#fff;stroke-width:0.3px">SHIBUSDT</text>
<rect x="2024" y="925" width="75" height="31" rx="2" fill="#f23645"/>
<text x="2032" y="937.9" textLength="60.8" lengthAdjust="spacingAndGlyphs" style="fill:#fff;stroke:#fff;stroke-width:0.3px">0.00000622</text>
<text x="2032" y="951.9" textLength="46.5" lengthAdjust="spacingAndGlyphs" style="fill:#fff;fill-opacity:.85">13:49:02</text>
<rect x="2024" y="1110.1" width="58" height="16.9" rx="2" fill="#ef5350"/>
<text x="2032" y="1122.9" textLength="44" lengthAdjust="spacingAndGlyphs" style="fill:#fff;stroke:#fff;stroke-width:0.3px">237.38&#8201;B</text>
<rect x="2024" y="1175.2" width="43" height="16.8" rx="2" fill="#7e57c2"/>
<text x="2032" y="1187.8" textLength="29.6" lengthAdjust="spacingAndGlyphs" style="fill:#fff;stroke:#fff;stroke-width:0.3px">41.69</text>
<rect x="2024" y="1191.8" width="43" height="16.8" rx="2" fill="#fdea3c"/>
<text x="2032" y="1204.5" textLength="29.6" lengthAdjust="spacingAndGlyphs" style="fill:#131722">40.02</text>
<text x="0" y="1237.3" text-anchor="middle" transform="translate(30.7 0) scale(0.93 1)">21</text>
<text x="0" y="1237.3" text-anchor="middle" transform="translate(82.4 0) scale(0.93 1)">26</text>
<text x="0" y="1237.3" text-anchor="middle" transform="translate(144.5 0) scale(0.93 1)">Sep</text>
<text x="0" y="1237.3" text-anchor="middle" transform="translate(196.3 0) scale(0.93 1)">6</text>
<text x="0" y="1237.3" text-anchor="middle" transform="translate(248 0) scale(0.93 1)">11</text>
<text x="0" y="1237.3" text-anchor="middle" transform="translate(299.8 0) scale(0.93 1)">16</text>
<text x="0" y="1237.3" text-anchor="middle" transform="translate(351.6 0) scale(0.93 1)">21</text>
<text x="0" y="1237.3" text-anchor="middle" transform="translate(403.3 0) scale(0.93 1)">26</text>
<text x="0" y="1237.3" text-anchor="middle" transform="translate(455.1 0) scale(0.93 1)">Oct</text>
<text x="0" y="1237.3" text-anchor="middle" transform="translate(506.8 0) scale(0.93 1)">6</text>
<text x="0" y="1237.3" text-anchor="middle" transform="translate(558.6 0) scale(0.93 1)">11</text>
<text x="0" y="1237.3" text-anchor="middle" transform="translate(610.3 0) scale(0.93 1)">16</text>
<text x="0" y="1237.3" text-anchor="middle" transform="translate(662.1 0) scale(0.93 1)">21</text>
<text x="0" y="1237.3" text-anchor="middle" transform="translate(713.8 0) scale(0.93 1)">26</text>
<text x="0" y="1237.3" text-anchor="middle" transform="translate(775.9 0) scale(0.93 1)">Nov</text>
<text x="0" y="1237.3" text-anchor="middle" transform="translate(827.6 0) scale(0.93 1)">6</text>
<text x="0" y="1237.3" text-anchor="middle" transform="translate(879.4 0) scale(0.93 1)">11</text>
<text x="0" y="1237.3" text-anchor="middle" transform="translate(931.1 0) scale(0.93 1)">16</text>
<text x="0" y="1237.3" text-anchor="middle" transform="translate(982.9 0) scale(0.93 1)">21</text>
<text x="0" y="1237.3" text-anchor="middle" transform="translate(1034.6 0) scale(0.93 1)">26</text>
<text x="0" y="1237.3" text-anchor="middle" transform="translate(1086.4 0) scale(0.93 1)">Dec</text>
<text x="0" y="1237.3" text-anchor="middle" transform="translate(1138.1 0) scale(0.93 1)">6</text>
<text x="0" y="1237.3" text-anchor="middle" transform="translate(1189.9 0) scale(0.93 1)">11</text>
<text x="0" y="1237.3" text-anchor="middle" transform="translate(1241.6 0) scale(0.93 1)">16</text>
<text x="0" y="1237.3" text-anchor="middle" transform="translate(1293.4 0) scale(0.93 1)">21</text>
<text x="0" y="1237.3" text-anchor="middle" transform="translate(1345.1 0) scale(0.93 1)">26</text>
<text x="0" y="1237.3" text-anchor="middle" style="font-weight:bold" transform="translate(1407.2 0) scale(0.93 1)">2026</text>
<text x="0" y="1237.3" text-anchor="middle" transform="translate(1459 0) scale(0.93 1)">6</text>
<text x="0" y="1237.3" text-anchor="middle" transform="translate(1510.7 0) scale(0.93 1)">11</text>
<text x="0" y="1237.3" text-anchor="middle" transform="translate(1562.5 0) scale(0.93 1)">16</text>
<text x="0" y="1237.3" text-anchor="middle" transform="translate(1614.2 0) scale(0.93 1)">21</text>
<text x="0" y="1237.3" text-anchor="middle" transform="translate(1666 0) scale(0.93 1)">26</text>
<text x="0" y="1237.3" text-anchor="middle" transform="translate(1728.1 0) scale(0.93 1)">Feb</text>
<text x="0" y="1237.3" text-anchor="middle" transform="translate(1779.8 0) scale(0.93 1)">6</text>
<text x="0" y="1237.3" text-anchor="middle" transform="translate(1831.6 0) scale(0.93 1)">11</text>
<text x="0" y="1237.3" text-anchor="middle" transform="translate(1883.3 0) scale(0.93 1)">16</text>
<text x="0" y="1237.3" text-anchor="middle" transform="translate(1935.1 0) scale(0.93 1)">21</text>
<text x="0" y="1237.3" text-anchor="middle" transform="translate(1986.8 0) scale(0.93 1)">26</text>
<text x="10.3" y="18.6" textLength="389.4" lengthAdjust="spacingAndGlyphs" style="font-size:12.5px">arman_shirinyan created with TradingView.com, Feb 19, 2026 10:10 UTC</text>
<text x="17.9" y="46" textLength="164" lengthAdjust="spacingAndGlyphs" >SHIB / TetherUS · 1D · Binance</text>
<text x="189.9" y="46" >O</text>
<text x="197.9" y="46" textLength="60.8" lengthAdjust="spacingAndGlyphs" style="fill:#f23645">0.00000630</text>
<text x="266.3" y="46" >H</text>
<text x="274.6" y="46" textLength="60.1" lengthAdjust="spacingAndGlyphs" style="fill:#f23645">0.00000634</text>
<text x="342.6" y="46" >L</text>
<text x="348.4" y="46" textLength="60.3" lengthAdjust="spacingAndGlyphs" style="fill:#f23645">0.00000621</text>
<text x="416.9" y="46" >C</text>
<text x="424.2" y="46" textLength="60.4" lengthAdjust="spacingAndGlyphs" style="fill:#f23645">0.00000622</text>
<text x="492.2" y="46" textLength="115.7" lengthAdjust="spacingAndGlyphs" style="fill:#f23645">−0.00000008 (−1.27%)</text>
<text x="17.9" y="63" textLength="51.5" lengthAdjust="spacingAndGlyphs" >Vol · SHIB</text>
<text x="77.3" y="63" textLength="43.8" lengthAdjust="spacingAndGlyphs" style="fill:#ef5350">237.38&#8201;B</text>
<text x="17.9" y="80" textLength="65.5" lengthAdjust="spacingAndGlyphs" >EMAs_Editor</text>
<text x="90.6" y="80" textLength="60.9" lengthAdjust="spacingAndGlyphs" style="fill:#2e8b2e">0.00000670</text>
<text x="158.9" y="80" textLength="60.4" lengthAdjust="spacingAndGlyphs" style="fill:#000">0.00000943</text>
<text x="227.3" y="80" textLength="60.9" lengthAdjust="spacingAndGlyphs" style="fill:#5b9cf6">0.00000749</text>
<text x="295.6" y="80" textLength="60.5" lengthAdjust="spacingAndGlyphs" style="fill:#f59d1b">0.00000797</text>
<text x="18.7" y="1148.1" textLength="74.8" lengthAdjust="spacingAndGlyphs" >RSI (14, close)</text>
<text x="102" y="1148.1" textLength="28.5" lengthAdjust="spacingAndGlyphs" style="fill:#7e57c2">41.69</text>
<text x="138.6" y="1148.1" textLength="29.4" lengthAdjust="spacingAndGlyphs" style="fill:#f7e65a">40.02</text>
<text x="178.4" y="1148.1" text-anchor="middle" style="font-family:'DejaVu Sans',sans-serif;font-size:10px">∅</text>
<text x="194.6" y="1148.1" text-anchor="middle" style="font-family:'DejaVu Sans',sans-serif;font-size:10px">∅</text>
<text x="210.1" y="1148.1" text-anchor="middle" style="font-family:'DejaVu Sans',sans-serif;font-size:10px">∅</text>
<text x="225.2" y="1148.1" text-anchor="middle" style="font-family:'DejaVu Sans',sans-serif;font-size:10px">∅</text>
<g fill="#111"><path d="M12.1 1269.2h11.7v14.5h-5.9v-8.8h-5.8z"/><circle cx="28.9" cy="1271.8" r="2.6"/><path d="M33.6 1269.2h7.7l-4.5 14.5h-7.7z"/></g>
<text x="49.2" y="1283.7" textLength="120.6" lengthAdjust="spacingAndGlyphs" style="font-size:20px;font-weight:bold;fill:#111;stroke:#111;stroke-width:0.45px">TradingView</text>
</svg></body></html>
